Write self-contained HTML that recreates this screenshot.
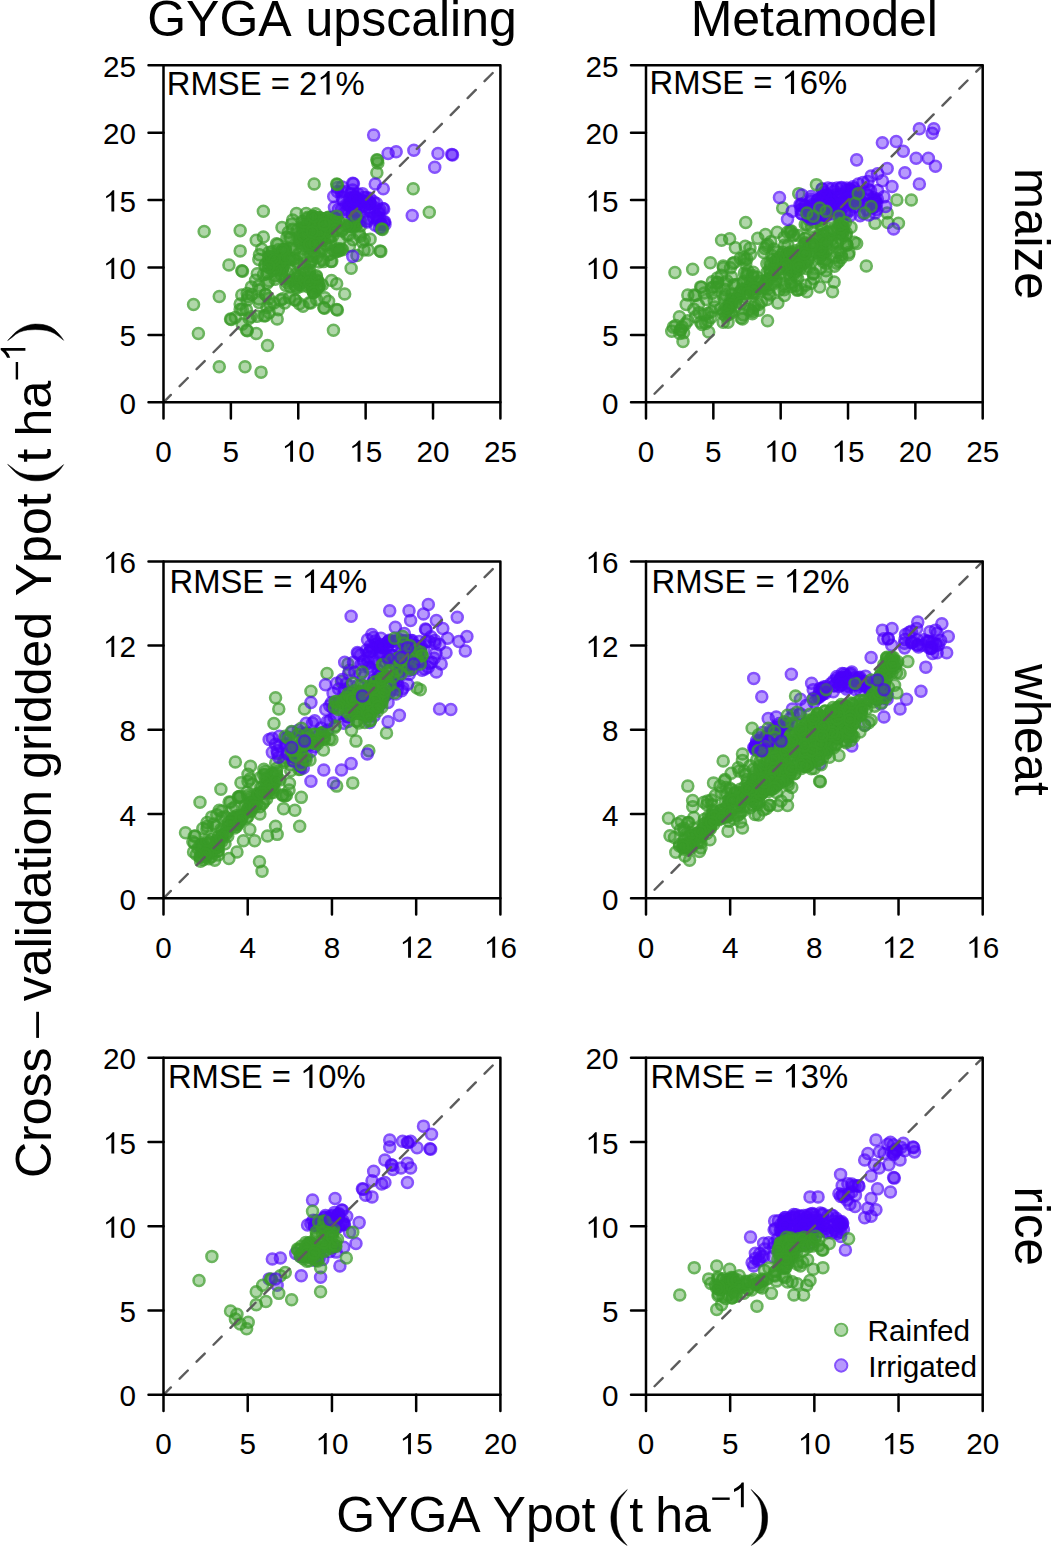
<!DOCTYPE html><html><head><meta charset="utf-8"><style>html,body{margin:0;padding:0;background:#fff;}svg{display:block;}text{font-family:"Liberation Sans", sans-serif;fill:#000;font-kerning:none;}</style></head><body>
<svg width="1051" height="1546" viewBox="0 0 1051 1546">
<rect width="1051" height="1546" fill="#fff"/>
<defs><g id="G"><circle r="4.0" fill="rgba(58,155,40,0.4)"/><circle r="5.38" fill="none" stroke="rgba(58,155,40,0.75)" stroke-width="2.75"/></g><g id="Q"><circle r="4.0" fill="rgba(75,0,250,0.4)"/><circle r="5.38" fill="none" stroke="rgba(75,0,250,0.68)" stroke-width="2.75"/></g><path id="one" d="M284 0L284 -556L118 -452Q104 -470 106 -520Q240 -590 328 -716L380 -716L380 0Z"/></defs>
<g><use href="#G" x="204.16" y="231.59"/><use href="#G" x="240.18" y="230.62"/><use href="#G" x="263.34" y="211.33"/><use href="#G" x="256.26" y="240.27"/><use href="#G" x="263.34" y="237.06"/><use href="#G" x="240.18" y="250.88"/><use href="#G" x="228.93" y="265.03"/><use href="#G" x="241.79" y="270.82"/><use href="#G" x="242.49" y="271.32"/><use href="#G" x="259.48" y="254.74"/><use href="#G" x="258.84" y="259.57"/><use href="#G" x="193.55" y="304.59"/><use href="#G" x="219.28" y="296.55"/><use href="#G" x="198.38" y="333.53"/><use href="#G" x="219.28" y="366.66"/><use href="#G" x="245.01" y="366.66"/><use href="#G" x="261.09" y="372.13"/><use href="#G" x="267.52" y="345.43"/><use href="#G" x="256.26" y="333.53"/><use href="#G" x="246.62" y="330.32"/><use href="#G" x="247.32" y="330.82"/><use href="#G" x="240.18" y="309.41"/><use href="#G" x="230.54" y="319.06"/><use href="#G" x="231.24" y="319.56"/><use href="#G" x="235.36" y="317.45"/><use href="#G" x="248.22" y="296.55"/><use href="#G" x="241.79" y="294.94"/><use href="#G" x="251.44" y="286.9"/><use href="#G" x="259.48" y="290.12"/><use href="#G" x="269.13" y="312.63"/><use href="#G" x="277.17" y="319.06"/><use href="#G" x="273.95" y="302.98"/><use href="#G" x="284.56" y="302.98"/><use href="#G" x="294.86" y="299.77"/><use href="#G" x="295.56" y="300.27"/><use href="#G" x="314.15" y="183.99"/><use href="#G" x="296.46" y="213.58"/><use href="#G" x="306.11" y="213.58"/><use href="#G" x="281.99" y="227.41"/><use href="#G" x="288.42" y="232.23"/><use href="#G" x="351.14" y="268.25"/><use href="#G" x="336.66" y="283.69"/><use href="#G" x="344.7" y="293.98"/><use href="#G" x="333.45" y="330.32"/><use href="#G" x="323.8" y="307.81"/><use href="#G" x="324.5" y="308.31"/><use href="#G" x="336.66" y="309.41"/><use href="#G" x="337.36" y="309.91"/><use href="#G" x="328.62" y="301.37"/><use href="#G" x="380.08" y="250.88"/><use href="#G" x="380.78" y="251.38"/><use href="#G" x="362.39" y="241.88"/><use href="#G" x="364" y="249.92"/><use href="#G" x="413.2" y="188.82"/><use href="#G" x="429.28" y="212.29"/><use href="#G" x="376.86" y="159.87"/><use href="#G" x="377.56" y="160.37"/><use href="#G" x="377.83" y="163.09"/><use href="#G" x="376.86" y="172.74"/><use href="#G" x="265.64" y="294.65"/><use href="#G" x="335.91" y="223.25"/><use href="#G" x="305.92" y="234.02"/><use href="#G" x="270.91" y="262.02"/><use href="#G" x="249.02" y="318.58"/><use href="#G" x="265.3" y="315.84"/><use href="#G" x="299.33" y="303.63"/><use href="#G" x="310.78" y="261.76"/><use href="#G" x="281.2" y="261.8"/><use href="#G" x="309.31" y="302.78"/><use href="#G" x="247.27" y="293.57"/><use href="#G" x="292.91" y="229.23"/><use href="#G" x="257.3" y="273.74"/><use href="#G" x="264.79" y="265.61"/><use href="#G" x="316.89" y="257.41"/><use href="#G" x="321.86" y="227.05"/><use href="#G" x="257.36" y="316.32"/><use href="#G" x="282.76" y="298.67"/><use href="#G" x="316.6" y="299.47"/><use href="#G" x="258.64" y="285.9"/><use href="#G" x="313.25" y="282.56"/><use href="#G" x="280.48" y="300.11"/><use href="#G" x="277.82" y="244.49"/><use href="#G" x="251.65" y="294.5"/><use href="#G" x="309.59" y="276.4"/><use href="#G" x="267.11" y="283.33"/><use href="#G" x="303.76" y="267.51"/><use href="#G" x="326.36" y="244.65"/><use href="#G" x="265.53" y="294.5"/><use href="#G" x="352.93" y="239.76"/><use href="#G" x="314.31" y="252.24"/><use href="#G" x="240.15" y="304.03"/><use href="#G" x="341.8" y="231"/><use href="#G" x="298.44" y="277.85"/><use href="#G" x="276.56" y="243.74"/><use href="#G" x="291.67" y="224.13"/><use href="#G" x="355.07" y="220.9"/><use href="#G" x="349.14" y="234.58"/><use href="#G" x="272.2" y="256.46"/><use href="#G" x="280.73" y="263.35"/><use href="#G" x="246.46" y="309.89"/><use href="#G" x="308" y="222.67"/><use href="#G" x="355.74" y="225.77"/><use href="#G" x="298.17" y="254.31"/><use href="#G" x="278.35" y="309.64"/><use href="#G" x="258.94" y="298.91"/><use href="#G" x="292.49" y="280.25"/><use href="#G" x="360.1" y="221.34"/><use href="#G" x="334.86" y="220.29"/><use href="#G" x="290.1" y="286.53"/><use href="#G" x="270.28" y="304.53"/><use href="#G" x="266.93" y="307.46"/><use href="#G" x="263.9" y="315.86"/><use href="#G" x="298.93" y="240.14"/><use href="#G" x="306.71" y="231.45"/><use href="#G" x="282.88" y="267.75"/><use href="#G" x="255.53" y="280.21"/><use href="#G" x="314.43" y="246.03"/><use href="#G" x="259.02" y="302.38"/><use href="#G" x="323.34" y="261.62"/><use href="#G" x="354.88" y="224.95"/><use href="#G" x="351.55" y="226.28"/><use href="#G" x="364.29" y="239.62"/><use href="#G" x="299.29" y="284.72"/><use href="#G" x="263.37" y="274.73"/><use href="#G" x="339.72" y="250.23"/><use href="#G" x="330.96" y="261.46"/><use href="#G" x="242.17" y="324.1"/><use href="#G" x="314.71" y="239.59"/><use href="#G" x="247.07" y="299.92"/><use href="#G" x="315.57" y="213.77"/><use href="#G" x="322.25" y="284.98"/><use href="#G" x="303" y="306.2"/><use href="#G" x="356.96" y="255.53"/><use href="#G" x="311.92" y="259.74"/><use href="#G" x="368.21" y="250.02"/><use href="#G" x="328.45" y="254.78"/><use href="#G" x="293.55" y="259.31"/><use href="#G" x="310.78" y="302.95"/><use href="#G" x="324.87" y="297.69"/><use href="#G" x="353.52" y="226.45"/><use href="#G" x="304.07" y="273.52"/><use href="#G" x="342.98" y="228.92"/><use href="#G" x="331.78" y="261.37"/><use href="#G" x="289.69" y="237.98"/><use href="#G" x="268.97" y="280.98"/><use href="#G" x="268.77" y="298.56"/><use href="#G" x="251.09" y="316.82"/><use href="#G" x="370.11" y="239.23"/><use href="#G" x="346.88" y="234.76"/><use href="#G" x="292.64" y="219.93"/><use href="#G" x="331.52" y="280.54"/><use href="#G" x="289.47" y="297.82"/><use href="#G" x="261.84" y="249.17"/><use href="#G" x="242.28" y="309.14"/><use href="#G" x="304.2" y="224.58"/><use href="#G" x="297.93" y="275.78"/><use href="#G" x="338.73" y="221.88"/><use href="#G" x="318.03" y="281.29"/><use href="#G" x="325.22" y="244.41"/><use href="#G" x="295.58" y="248.81"/><use href="#G" x="290" y="259.37"/><use href="#G" x="302.03" y="282.67"/><use href="#G" x="322.53" y="259.62"/><use href="#G" x="342.58" y="249.76"/><use href="#G" x="316.41" y="275.67"/><use href="#G" x="318.4" y="228.69"/><use href="#G" x="285.08" y="249.27"/><use href="#G" x="312.42" y="288.13"/><use href="#G" x="338.03" y="251.31"/><use href="#G" x="349.52" y="226.3"/><use href="#G" x="341.31" y="248.99"/><use href="#G" x="319.71" y="217.7"/><use href="#G" x="302.23" y="280.06"/><use href="#G" x="333.68" y="250.26"/><use href="#G" x="302.15" y="286.06"/><use href="#G" x="321.76" y="250.37"/><use href="#G" x="313.44" y="217.95"/><use href="#G" x="280.93" y="274.05"/><use href="#G" x="275.15" y="279.3"/><use href="#G" x="319.48" y="237.59"/><use href="#G" x="330.17" y="254.24"/><use href="#G" x="323.55" y="233.72"/><use href="#G" x="309.11" y="222.67"/><use href="#G" x="335.96" y="218.43"/><use href="#G" x="315.41" y="227.95"/><use href="#G" x="319.25" y="217.67"/><use href="#G" x="274.62" y="265.52"/><use href="#G" x="327.01" y="227.6"/><use href="#G" x="315.02" y="278.76"/><use href="#G" x="267.71" y="273.29"/><use href="#G" x="313.86" y="227.12"/><use href="#G" x="325.09" y="233.48"/><use href="#G" x="292.25" y="250.67"/><use href="#G" x="339.21" y="221.87"/><use href="#G" x="306.43" y="232.6"/><use href="#G" x="287.51" y="273.12"/><use href="#G" x="308.72" y="231.13"/><use href="#G" x="288.73" y="257.92"/><use href="#G" x="321.05" y="248.27"/><use href="#G" x="285.07" y="249.79"/><use href="#G" x="332.93" y="235.6"/><use href="#G" x="354.01" y="222.09"/><use href="#G" x="298.2" y="264.7"/><use href="#G" x="278.15" y="260.55"/><use href="#G" x="335.32" y="251.95"/><use href="#G" x="295.54" y="274.57"/><use href="#G" x="296.08" y="287.15"/><use href="#G" x="360.35" y="225.93"/><use href="#G" x="320.38" y="219.15"/><use href="#G" x="289.75" y="280.84"/><use href="#G" x="303.77" y="229.44"/><use href="#G" x="280" y="261.27"/><use href="#G" x="309.61" y="270.06"/><use href="#G" x="324.45" y="230.5"/><use href="#G" x="272.44" y="264.53"/><use href="#G" x="338.36" y="248.87"/><use href="#G" x="356.26" y="224.1"/><use href="#G" x="275.78" y="275.72"/><use href="#G" x="285.86" y="285.41"/><use href="#G" x="314.14" y="230.18"/><use href="#G" x="297.3" y="287.63"/><use href="#G" x="337.81" y="228.86"/><use href="#G" x="266.48" y="274.08"/><use href="#G" x="290.74" y="259.77"/><use href="#G" x="269.14" y="267.74"/><use href="#G" x="301.8" y="228.8"/><use href="#G" x="314.1" y="223.3"/><use href="#G" x="309.05" y="248.19"/><use href="#G" x="301.79" y="243.59"/><use href="#G" x="303.36" y="227.85"/><use href="#G" x="290.92" y="270.68"/><use href="#G" x="296.95" y="282.34"/><use href="#G" x="297.23" y="261.41"/><use href="#G" x="303.51" y="256.13"/><use href="#G" x="350.8" y="221.61"/><use href="#G" x="335.73" y="223.33"/><use href="#G" x="349.47" y="246.05"/><use href="#G" x="311.4" y="256.42"/><use href="#G" x="281.32" y="260.29"/><use href="#G" x="306.06" y="243.59"/><use href="#G" x="299.24" y="236.96"/><use href="#G" x="295.26" y="285.16"/><use href="#G" x="286.95" y="237.44"/><use href="#G" x="268.93" y="260.9"/><use href="#G" x="308.8" y="242.31"/><use href="#G" x="303.46" y="227.31"/><use href="#G" x="281.07" y="276.44"/><use href="#G" x="294.62" y="258.22"/><use href="#G" x="304.36" y="264.06"/><use href="#G" x="301.8" y="278.56"/><use href="#G" x="306.84" y="237.51"/><use href="#G" x="310.39" y="263.36"/><use href="#G" x="309.19" y="284.75"/><use href="#G" x="337.13" y="249.92"/><use href="#G" x="298.25" y="277.5"/><use href="#G" x="303.52" y="239.42"/><use href="#G" x="304.49" y="280.34"/><use href="#G" x="290.55" y="248.65"/><use href="#G" x="328.41" y="217.14"/><use href="#G" x="310.41" y="255.28"/><use href="#G" x="339.33" y="240.69"/><use href="#G" x="317.97" y="238.44"/><use href="#G" x="285.03" y="278.56"/><use href="#G" x="281.71" y="259.22"/><use href="#G" x="290.79" y="237.86"/><use href="#G" x="306.86" y="270.72"/><use href="#G" x="311.03" y="278.35"/><use href="#G" x="330.71" y="241.48"/><use href="#G" x="360.04" y="236.16"/><use href="#G" x="297.25" y="230.43"/><use href="#G" x="319.11" y="240.25"/><use href="#G" x="309.32" y="234.27"/><use href="#G" x="268.43" y="264.89"/><use href="#G" x="359.39" y="233.89"/><use href="#G" x="321.99" y="240.37"/><use href="#G" x="314.54" y="227.5"/><use href="#G" x="300.3" y="242.11"/><use href="#G" x="308.67" y="246.84"/><use href="#G" x="349.51" y="225.46"/><use href="#G" x="326.78" y="225.17"/><use href="#G" x="319.07" y="262.03"/><use href="#G" x="313.68" y="292.15"/><use href="#G" x="313.89" y="243.38"/><use href="#G" x="281.6" y="261.54"/><use href="#G" x="300.94" y="233.94"/><use href="#G" x="265.5" y="264.53"/><use href="#G" x="303.22" y="248.78"/><use href="#G" x="287.12" y="282.43"/><use href="#G" x="309.11" y="272.66"/><use href="#G" x="285.14" y="249.96"/><use href="#G" x="329.9" y="237.53"/><use href="#G" x="316.64" y="237"/><use href="#G" x="328.01" y="238.01"/><use href="#G" x="327.23" y="229.47"/><use href="#G" x="312.34" y="216.46"/><use href="#G" x="312.23" y="218.43"/><use href="#G" x="322.04" y="230.12"/><use href="#G" x="315.74" y="226.35"/><use href="#G" x="323.56" y="235.21"/><use href="#G" x="318.7" y="228.49"/><use href="#G" x="323.12" y="220.01"/><use href="#G" x="313.13" y="216.23"/><use href="#G" x="325.42" y="218.54"/><use href="#G" x="307.74" y="218.43"/><use href="#G" x="324.09" y="239.13"/><use href="#G" x="306.1" y="231.51"/><use href="#G" x="323.37" y="231.41"/><use href="#G" x="312.22" y="229.29"/><use href="#G" x="309.3" y="238.44"/><use href="#G" x="304.56" y="238.51"/><use href="#G" x="307.83" y="233.61"/><use href="#G" x="316.75" y="233.24"/><use href="#G" x="302.27" y="221.5"/><use href="#G" x="314.77" y="230.79"/><use href="#G" x="327.18" y="231.57"/><use href="#G" x="326.85" y="225.84"/><use href="#G" x="324.12" y="222.29"/><use href="#G" x="309.45" y="230.68"/><use href="#G" x="319.78" y="239.71"/><use href="#G" x="308.5" y="222.61"/><use href="#G" x="331.06" y="222.72"/><use href="#G" x="304.84" y="236.34"/><use href="#G" x="313.83" y="235.01"/><use href="#G" x="333.78" y="225.79"/><use href="#G" x="307.48" y="231.65"/><use href="#G" x="303.63" y="235.58"/><use href="#G" x="322.63" y="219.72"/><use href="#G" x="320.06" y="222.36"/><use href="#G" x="315.2" y="240"/><use href="#G" x="311.72" y="244.6"/><use href="#G" x="319.66" y="232.86"/><use href="#G" x="319.33" y="246.6"/><use href="#G" x="307.81" y="217.22"/><use href="#G" x="309.25" y="244.82"/><use href="#G" x="321" y="218.25"/><use href="#G" x="328.8" y="217.58"/><use href="#G" x="323.5" y="224.55"/><use href="#G" x="330.51" y="220.44"/><use href="#G" x="309.46" y="244.18"/><use href="#G" x="333.04" y="217.11"/><use href="#G" x="334.53" y="223.3"/><use href="#G" x="304.49" y="222.05"/><use href="#G" x="335.09" y="230.42"/><use href="#G" x="315" y="243.41"/><use href="#G" x="313.58" y="216.5"/><use href="#G" x="324.39" y="224.01"/><use href="#G" x="312.26" y="231.69"/><use href="#G" x="283.78" y="264.81"/><use href="#G" x="276.01" y="263.94"/><use href="#G" x="282.47" y="269.66"/><use href="#G" x="268.72" y="256.55"/><use href="#G" x="279.21" y="264.16"/><use href="#G" x="273.11" y="270.17"/><use href="#G" x="274.08" y="262.81"/><use href="#G" x="281.63" y="270.77"/><use href="#G" x="272.83" y="263.65"/><use href="#G" x="282.68" y="249.73"/><use href="#G" x="273.34" y="257.92"/><use href="#G" x="280.06" y="260.41"/><use href="#G" x="283.93" y="251.46"/><use href="#G" x="268.81" y="252.46"/><use href="#G" x="280" y="261.95"/><use href="#G" x="278.37" y="249.75"/><use href="#G" x="277.23" y="266.73"/><use href="#G" x="275.69" y="270.3"/><use href="#G" x="271.58" y="261.92"/><use href="#G" x="279.49" y="256.16"/><use href="#G" x="272.39" y="257.46"/><use href="#G" x="270.98" y="254.75"/><use href="#G" x="285.14" y="258.12"/><use href="#G" x="282.4" y="250.28"/><use href="#G" x="272.38" y="251.42"/><use href="#G" x="274.38" y="259.72"/><use href="#G" x="268.84" y="266.7"/><use href="#G" x="317.7" y="287.29"/><use href="#G" x="312.31" y="285.71"/><use href="#G" x="316.91" y="288.85"/><use href="#G" x="314.5" y="282.43"/><use href="#G" x="318.65" y="286.6"/><use href="#G" x="308.51" y="287.03"/><use href="#G" x="313.35" y="291.91"/><use href="#G" x="319.25" y="285.56"/><use href="#G" x="317.44" y="280.64"/><use href="#G" x="312.82" y="290.12"/><use href="#G" x="318.95" y="286.5"/><use href="#G" x="309.7" y="282.18"/><use href="#G" x="313.85" y="292.36"/><use href="#G" x="316.54" y="277.07"/><use href="#Q" x="373.65" y="135.11"/><use href="#Q" x="388.12" y="153.44"/><use href="#Q" x="396.16" y="151.83"/><use href="#Q" x="413.85" y="150.22"/><use href="#Q" x="437.97" y="153.44"/><use href="#Q" x="451.8" y="154.4"/><use href="#Q" x="452.5" y="154.9"/><use href="#Q" x="434.75" y="167.27"/><use href="#Q" x="352.74" y="183.35"/><use href="#Q" x="353.44" y="183.85"/><use href="#Q" x="375.25" y="183.99"/><use href="#Q" x="383.29" y="188.82"/><use href="#Q" x="412.24" y="215.51"/><use href="#Q" x="352.74" y="256.35"/><use href="#Q" x="362.39" y="193.64"/><use href="#Q" x="381.69" y="227.41"/><use href="#Q" x="342.09" y="197.3"/><use href="#Q" x="353.71" y="201.81"/><use href="#Q" x="357.81" y="193.88"/><use href="#Q" x="368.85" y="201.45"/><use href="#Q" x="342.97" y="199.88"/><use href="#Q" x="379.88" y="210.08"/><use href="#Q" x="383.71" y="209.09"/><use href="#Q" x="376.52" y="203.62"/><use href="#Q" x="357.62" y="202.25"/><use href="#Q" x="369.33" y="203.16"/><use href="#Q" x="384.97" y="224.38"/><use href="#Q" x="352.63" y="190.07"/><use href="#Q" x="352.35" y="215"/><use href="#Q" x="373.54" y="217.55"/><use href="#Q" x="356.99" y="205.54"/><use href="#Q" x="368.06" y="218.56"/><use href="#Q" x="352.29" y="204.1"/><use href="#Q" x="355.3" y="211.02"/><use href="#Q" x="367.19" y="221.87"/><use href="#Q" x="355.19" y="210.99"/><use href="#Q" x="338.51" y="209.26"/><use href="#Q" x="359.44" y="201.31"/><use href="#Q" x="352.08" y="212.91"/><use href="#Q" x="363.1" y="206.07"/><use href="#Q" x="360.6" y="204.03"/><use href="#Q" x="382.84" y="208.6"/><use href="#Q" x="381.56" y="224.61"/><use href="#Q" x="374.45" y="207.69"/><use href="#Q" x="375.4" y="225.2"/><use href="#Q" x="370.14" y="203.54"/><use href="#Q" x="369.87" y="198.34"/><use href="#Q" x="346.67" y="204.42"/><use href="#Q" x="349.23" y="205.72"/><use href="#Q" x="349.87" y="198.2"/><use href="#Q" x="379.67" y="227.64"/><use href="#Q" x="346.25" y="211.36"/><use href="#Q" x="376.93" y="216.6"/><use href="#Q" x="353.7" y="196.43"/><use href="#Q" x="334.44" y="207.33"/><use href="#Q" x="350.06" y="204.99"/><use href="#Q" x="365.13" y="201.66"/><use href="#Q" x="350.9" y="194.01"/><use href="#Q" x="349.56" y="204.28"/><use href="#Q" x="355.36" y="196.33"/><use href="#Q" x="344.14" y="191.48"/><use href="#Q" x="357.11" y="204.24"/><use href="#Q" x="341.39" y="191.88"/><use href="#Q" x="337.57" y="187.6"/><use href="#Q" x="361.33" y="200.1"/><use href="#Q" x="373.59" y="201.67"/><use href="#Q" x="381.13" y="224.13"/><use href="#Q" x="369.63" y="208.11"/><use href="#Q" x="348.63" y="204.17"/><use href="#Q" x="370.01" y="210.86"/><use href="#Q" x="378.55" y="221.03"/><use href="#Q" x="359.25" y="200.69"/><use href="#Q" x="355.08" y="197.71"/><use href="#Q" x="352.55" y="209.42"/><use href="#Q" x="337.38" y="191.43"/><use href="#Q" x="370.29" y="203.91"/><use href="#Q" x="333.72" y="196.44"/><use href="#Q" x="379.61" y="218.04"/><use href="#Q" x="347.42" y="209.8"/><use href="#Q" x="363.95" y="197.27"/><use href="#Q" x="357.32" y="211.52"/><use href="#Q" x="366.31" y="197.53"/><use href="#Q" x="383.88" y="222.08"/><use href="#Q" x="364.51" y="208.5"/><use href="#Q" x="367.08" y="220.73"/><use href="#Q" x="369.05" y="203.33"/><use href="#Q" x="355.15" y="198.55"/><use href="#Q" x="384.69" y="221.66"/><use href="#Q" x="362.64" y="206.6"/><use href="#Q" x="377.93" y="212.67"/><use href="#Q" x="378.81" y="211.93"/><use href="#Q" x="341.66" y="209.39"/><use href="#Q" x="342.07" y="186.88"/><use href="#G" x="336.66" y="183.99"/><use href="#G" x="337.36" y="184.49"/><use href="#G" x="381.69" y="229.02"/><use href="#G" x="382.39" y="229.52"/><use href="#G" x="336.66" y="216.15"/><use href="#G" x="355.96" y="216.15"/><use href="#G" x="346.31" y="225.8"/></g>
<line x1="163.5" y1="402.3" x2="500.4" y2="65.3" stroke="#5c5c5c" stroke-width="2.4" stroke-dasharray="11.5 12.46" stroke-dashoffset="1.12" stroke-linecap="round"/>
<rect x="163.5" y="65.3" width="336.9" height="337" fill="none" stroke="#000" stroke-width="2.5" stroke-linejoin="round"/>
<path d="M163.5 402.3H148.5M163.5 402.3V418.6M163.5 334.9H148.5M230.88 402.3V418.6M163.5 267.5H148.5M298.26 402.3V418.6M163.5 200.1H148.5M365.64 402.3V418.6M163.5 132.7H148.5M433.02 402.3V418.6M163.5 65.3H148.5M500.4 402.3V418.6" stroke="#000" stroke-width="2.5" stroke-linecap="round" fill="none"/>
<text x="119.48" y="413.8" font-size="29.7">0</text>
<text x="155.24" y="461.7" font-size="29.7">0</text>
<text x="119.48" y="346.4" font-size="29.7">5</text>
<text x="222.62" y="461.7" font-size="29.7">5</text>
<use href="#one" transform="translate(102.96 279) scale(0.0297)"/><text x="119.48" y="279" font-size="29.7">0</text>
<use href="#one" transform="translate(281.74 461.7) scale(0.0297)"/><text x="298.26" y="461.7" font-size="29.7">0</text>
<use href="#one" transform="translate(102.96 211.6) scale(0.0297)"/><text x="119.48" y="211.6" font-size="29.7">5</text>
<use href="#one" transform="translate(349.12 461.7) scale(0.0297)"/><text x="365.64" y="461.7" font-size="29.7">5</text>
<text x="102.96" y="144.2" font-size="29.7">20</text>
<text x="416.5" y="461.7" font-size="29.7">20</text>
<text x="102.96" y="76.8" font-size="29.7">25</text>
<text x="483.88" y="461.7" font-size="29.7">25</text>
<text x="166.78" y="94.5" font-size="32.8">RMSE = 2</text><use href="#one" transform="translate(317.16 94.5) scale(0.0328)"/><text x="335.4" y="94.5" font-size="32.8">%</text>
<g><use href="#G" x="745.7" y="222.58"/><use href="#G" x="674.94" y="272.43"/><use href="#G" x="692.63" y="269.22"/><use href="#G" x="710.32" y="262.78"/><use href="#G" x="723.18" y="266"/><use href="#G" x="721.58" y="240.27"/><use href="#G" x="729.62" y="238.66"/><use href="#G" x="735.4" y="247.67"/><use href="#G" x="798.76" y="193.64"/><use href="#G" x="782.68" y="208.11"/><use href="#G" x="777.21" y="232.23"/><use href="#G" x="787.5" y="232.23"/><use href="#G" x="896.85" y="200.07"/><use href="#G" x="911.32" y="200.07"/><use href="#G" x="887.2" y="212.94"/><use href="#G" x="898.45" y="223.23"/><use href="#G" x="874.98" y="223.23"/><use href="#G" x="887.84" y="222.58"/><use href="#G" x="856.65" y="243.49"/><use href="#G" x="866.29" y="266"/><use href="#G" x="848.61" y="254.74"/><use href="#G" x="838.96" y="261.18"/><use href="#G" x="832.53" y="291.73"/><use href="#G" x="834.14" y="282.08"/><use href="#G" x="819.66" y="286.9"/><use href="#G" x="806.8" y="291.73"/><use href="#G" x="797.15" y="290.12"/><use href="#G" x="777.86" y="302.98"/><use href="#G" x="767.56" y="320.67"/><use href="#G" x="758.56" y="304.59"/><use href="#G" x="687.81" y="320.67"/><use href="#G" x="682.98" y="341.57"/><use href="#G" x="673.34" y="327.1"/><use href="#G" x="671.73" y="331.28"/><use href="#G" x="679.77" y="333.53"/><use href="#G" x="687.81" y="294.94"/><use href="#G" x="700.67" y="286.9"/><use href="#G" x="713.54" y="286.9"/><use href="#G" x="686.2" y="304.59"/><use href="#G" x="708.71" y="331.93"/><use href="#G" x="700.67" y="322.28"/><use href="#G" x="699.06" y="312.63"/><use href="#G" x="723.18" y="322.28"/><use href="#G" x="728.01" y="322.28"/><use href="#G" x="742.48" y="319.06"/><use href="#G" x="748.91" y="309.41"/><use href="#G" x="784.29" y="283.69"/><use href="#G" x="793.94" y="274.04"/><use href="#G" x="813.23" y="274.04"/><use href="#G" x="826.1" y="270.82"/><use href="#G" x="753.76" y="307.57"/><use href="#G" x="745.39" y="293.58"/><use href="#G" x="832.47" y="231.18"/><use href="#G" x="825.49" y="259.26"/><use href="#G" x="769.46" y="278.11"/><use href="#G" x="764.92" y="248.35"/><use href="#G" x="836.15" y="252"/><use href="#G" x="765.47" y="234.56"/><use href="#G" x="822.16" y="254.04"/><use href="#G" x="784.83" y="287.08"/><use href="#G" x="763.22" y="286.39"/><use href="#G" x="711.35" y="311.73"/><use href="#G" x="801.08" y="289.17"/><use href="#G" x="793.72" y="234.54"/><use href="#G" x="790.6" y="232.45"/><use href="#G" x="695.48" y="295.48"/><use href="#G" x="819.05" y="219.26"/><use href="#G" x="788.66" y="253.3"/><use href="#G" x="805.46" y="285.2"/><use href="#G" x="826.34" y="263.5"/><use href="#G" x="761.42" y="302.03"/><use href="#G" x="844.74" y="212.72"/><use href="#G" x="790.38" y="279.03"/><use href="#G" x="787.83" y="259.62"/><use href="#G" x="829.97" y="217.94"/><use href="#G" x="743.38" y="281.77"/><use href="#G" x="820.32" y="268.33"/><use href="#G" x="694.11" y="295.12"/><use href="#G" x="777.76" y="252.02"/><use href="#G" x="762.67" y="288.9"/><use href="#G" x="714.17" y="300.16"/><use href="#G" x="679.43" y="316.83"/><use href="#G" x="846.05" y="243.56"/><use href="#G" x="758.68" y="310.25"/><use href="#G" x="787.91" y="245.58"/><use href="#G" x="822.78" y="213.25"/><use href="#G" x="834.48" y="266.15"/><use href="#G" x="851.01" y="227.21"/><use href="#G" x="768.32" y="293.56"/><use href="#G" x="805.63" y="253.93"/><use href="#G" x="740.36" y="258.42"/><use href="#G" x="723.74" y="297.72"/><use href="#G" x="783.05" y="252.47"/><use href="#G" x="828.13" y="238.43"/><use href="#G" x="701.53" y="287.29"/><use href="#G" x="706.41" y="299.55"/><use href="#G" x="731.97" y="293.9"/><use href="#G" x="793.14" y="235.74"/><use href="#G" x="747.08" y="276.06"/><use href="#G" x="767.08" y="299.47"/><use href="#G" x="733.85" y="284.66"/><use href="#G" x="745.95" y="297.41"/><use href="#G" x="736.99" y="284.61"/><use href="#G" x="680.77" y="329.73"/><use href="#G" x="745.22" y="246.33"/><use href="#G" x="819.21" y="258.58"/><use href="#G" x="752.48" y="311.76"/><use href="#G" x="712.4" y="281.63"/><use href="#G" x="813.49" y="273.22"/><use href="#G" x="798.39" y="235.45"/><use href="#G" x="801" y="251.32"/><use href="#G" x="815.24" y="222.26"/><use href="#G" x="770.07" y="295"/><use href="#G" x="823.5" y="252.78"/><use href="#G" x="763.68" y="252.5"/><use href="#G" x="819.96" y="220.61"/><use href="#G" x="809.24" y="267"/><use href="#G" x="746.74" y="258.96"/><use href="#G" x="711.1" y="317.4"/><use href="#G" x="836.84" y="263.27"/><use href="#G" x="731.47" y="312.76"/><use href="#G" x="741.06" y="318.05"/><use href="#G" x="707.98" y="313.33"/><use href="#G" x="728.48" y="309.05"/><use href="#G" x="766.7" y="246.13"/><use href="#G" x="773.88" y="249.06"/><use href="#G" x="784.15" y="237.36"/><use href="#G" x="714.8" y="307.07"/><use href="#G" x="750.43" y="254.35"/><use href="#G" x="820.42" y="252.55"/><use href="#G" x="779.04" y="290.27"/><use href="#G" x="784.71" y="244.94"/><use href="#G" x="843.29" y="232.36"/><use href="#G" x="750.96" y="310.28"/><use href="#G" x="822.86" y="258.48"/><use href="#G" x="735.78" y="301.35"/><use href="#G" x="823.19" y="254.6"/><use href="#G" x="711.44" y="287.94"/><use href="#G" x="811.22" y="283.15"/><use href="#G" x="835.34" y="257.22"/><use href="#G" x="712.12" y="293.31"/><use href="#G" x="725.27" y="296.11"/><use href="#G" x="754.8" y="305.27"/><use href="#G" x="730.32" y="311.45"/><use href="#G" x="743.81" y="257.41"/><use href="#G" x="704.73" y="314.97"/><use href="#G" x="789.93" y="230.91"/><use href="#G" x="716.68" y="287.27"/><use href="#G" x="721.53" y="275.26"/><use href="#G" x="823.64" y="262.01"/><use href="#G" x="813.8" y="278.79"/><use href="#G" x="732.68" y="263.43"/><use href="#G" x="701.98" y="324.4"/><use href="#G" x="846.99" y="245.22"/><use href="#G" x="693.89" y="309.32"/><use href="#G" x="811.64" y="226.68"/><use href="#G" x="682.23" y="326.91"/><use href="#G" x="795.99" y="276.43"/><use href="#G" x="695.48" y="316.66"/><use href="#G" x="846.67" y="244.64"/><use href="#G" x="723.44" y="267.83"/><use href="#G" x="705.69" y="323.56"/><use href="#G" x="749.37" y="287.32"/><use href="#G" x="753.21" y="272.21"/><use href="#G" x="807.2" y="225.12"/><use href="#G" x="771.94" y="255.44"/><use href="#G" x="791.31" y="230.99"/><use href="#G" x="704.17" y="293.06"/><use href="#G" x="804.88" y="242.81"/><use href="#G" x="817.15" y="252.84"/><use href="#G" x="731.6" y="276.99"/><use href="#G" x="841.1" y="221.13"/><use href="#G" x="717.71" y="282.64"/><use href="#G" x="683.6" y="332.69"/><use href="#G" x="720.62" y="308.9"/><use href="#G" x="785.6" y="275.27"/><use href="#G" x="795.84" y="285.71"/><use href="#G" x="749.93" y="248.26"/><use href="#G" x="745.76" y="263.93"/><use href="#G" x="743.2" y="314.86"/><use href="#G" x="685.41" y="323.86"/><use href="#G" x="848.95" y="252.59"/><use href="#G" x="744.53" y="259.87"/><use href="#G" x="805.25" y="224.57"/><use href="#G" x="747.94" y="271.22"/><use href="#G" x="698.46" y="304.69"/><use href="#G" x="743.08" y="283.12"/><use href="#G" x="820.75" y="224.86"/><use href="#G" x="757.77" y="238.35"/><use href="#G" x="717.34" y="277.96"/><use href="#G" x="785.58" y="256.88"/><use href="#G" x="725.08" y="289.43"/><use href="#G" x="759.43" y="288.35"/><use href="#G" x="790.95" y="283.25"/><use href="#G" x="819.5" y="256.86"/><use href="#G" x="783.18" y="257.05"/><use href="#G" x="746.72" y="274.32"/><use href="#G" x="758.29" y="283.26"/><use href="#G" x="791.69" y="286.57"/><use href="#G" x="680.1" y="329.96"/><use href="#G" x="790.62" y="253.2"/><use href="#G" x="725.02" y="283.02"/><use href="#G" x="841.3" y="254.71"/><use href="#G" x="806.19" y="268.55"/><use href="#G" x="826.32" y="276.7"/><use href="#G" x="725.87" y="294.63"/><use href="#G" x="744.39" y="273.14"/><use href="#G" x="784.15" y="289.64"/><use href="#G" x="717.31" y="282.2"/><use href="#G" x="797.62" y="278.42"/><use href="#G" x="798.14" y="290.05"/><use href="#G" x="752.34" y="313.74"/><use href="#G" x="841.81" y="257.64"/><use href="#G" x="854.24" y="242.21"/><use href="#G" x="770.72" y="241.68"/><use href="#G" x="734.39" y="262.4"/><use href="#G" x="675.78" y="325.61"/><use href="#G" x="809.09" y="219.76"/><use href="#G" x="838.33" y="212.93"/><use href="#G" x="839.58" y="251.49"/><use href="#G" x="708.03" y="320.88"/><use href="#G" x="804.84" y="238.44"/><use href="#G" x="786.37" y="266.4"/><use href="#G" x="812.51" y="243.87"/><use href="#G" x="726.84" y="280.75"/><use href="#G" x="806.02" y="237.91"/><use href="#G" x="730.45" y="267.85"/><use href="#G" x="767.77" y="288.77"/><use href="#G" x="789.34" y="268.81"/><use href="#G" x="821.36" y="224.68"/><use href="#G" x="725.73" y="316.04"/><use href="#G" x="784.4" y="295.58"/><use href="#G" x="767.82" y="244.45"/><use href="#G" x="823.02" y="243.58"/><use href="#G" x="764.62" y="283.37"/><use href="#G" x="767.1" y="279.89"/><use href="#G" x="723.58" y="310.77"/><use href="#G" x="776.4" y="262.54"/><use href="#G" x="791.04" y="270.9"/><use href="#G" x="807.74" y="259.67"/><use href="#G" x="741.74" y="289.08"/><use href="#G" x="826" y="244.52"/><use href="#G" x="837.37" y="243.96"/><use href="#G" x="766.85" y="263.66"/><use href="#G" x="842.9" y="230.44"/><use href="#G" x="751.14" y="286.45"/><use href="#G" x="795.58" y="250.66"/><use href="#G" x="794.72" y="256.71"/><use href="#G" x="779.91" y="272.98"/><use href="#G" x="846.42" y="233.05"/><use href="#G" x="791.23" y="269.82"/><use href="#G" x="840.74" y="233.45"/><use href="#G" x="808.9" y="243.37"/><use href="#G" x="775.08" y="261.62"/><use href="#G" x="762.64" y="281.21"/><use href="#G" x="767.52" y="280.32"/><use href="#G" x="757.18" y="277.22"/><use href="#G" x="819.12" y="236.11"/><use href="#G" x="795.34" y="271.38"/><use href="#G" x="815.6" y="237.91"/><use href="#G" x="781.62" y="255.47"/><use href="#G" x="731.02" y="304"/><use href="#G" x="800.13" y="260.02"/><use href="#G" x="752.67" y="287.25"/><use href="#G" x="805.17" y="244.47"/><use href="#G" x="795.57" y="265.15"/><use href="#G" x="823.04" y="235.81"/><use href="#G" x="787.18" y="254.34"/><use href="#G" x="823.21" y="251.76"/><use href="#G" x="805.28" y="250.32"/><use href="#G" x="843.81" y="227.96"/><use href="#G" x="752.83" y="292.74"/><use href="#G" x="782.76" y="266.65"/><use href="#G" x="752.14" y="276.63"/><use href="#G" x="831.64" y="239.57"/><use href="#G" x="773.25" y="275.09"/><use href="#G" x="769.83" y="263.18"/><use href="#G" x="821.27" y="248.36"/><use href="#G" x="801.97" y="259.67"/><use href="#G" x="739.91" y="293.45"/><use href="#G" x="726.68" y="310.49"/><use href="#G" x="749.5" y="286.97"/><use href="#G" x="837.78" y="228.3"/><use href="#G" x="790.68" y="266.55"/><use href="#G" x="819.33" y="239.24"/><use href="#G" x="801.01" y="265.39"/><use href="#G" x="759.08" y="281.05"/><use href="#G" x="819.99" y="253.85"/><use href="#G" x="765.41" y="287.42"/><use href="#G" x="846.04" y="235.84"/><use href="#G" x="781.04" y="268.55"/><use href="#G" x="770.29" y="273.67"/><use href="#G" x="789.63" y="255.28"/><use href="#G" x="811.65" y="254.46"/><use href="#G" x="840.6" y="239.07"/><use href="#G" x="787.27" y="254.33"/><use href="#G" x="772.94" y="278.79"/><use href="#G" x="832.59" y="244.84"/><use href="#G" x="791.15" y="261.11"/><use href="#G" x="794.86" y="253"/><use href="#G" x="789.58" y="274.27"/><use href="#G" x="826.87" y="232.35"/><use href="#G" x="822.45" y="234.17"/><use href="#G" x="729.43" y="303.8"/><use href="#G" x="738.31" y="292.91"/><use href="#G" x="736.2" y="306.23"/><use href="#G" x="819.38" y="249.28"/><use href="#G" x="736.82" y="298.52"/><use href="#G" x="789.55" y="263.5"/><use href="#G" x="772.46" y="276.84"/><use href="#G" x="774.74" y="266.61"/><use href="#G" x="787.87" y="260.31"/><use href="#G" x="794.93" y="258.42"/><use href="#G" x="826.63" y="250.53"/><use href="#G" x="799.83" y="259.49"/><use href="#G" x="754.1" y="292.19"/><use href="#G" x="750.43" y="282.28"/><use href="#G" x="754.87" y="287.93"/><use href="#G" x="764.66" y="286.39"/><use href="#G" x="750.69" y="290.14"/><use href="#G" x="841.75" y="227.13"/><use href="#G" x="842.81" y="223.52"/><use href="#G" x="808.1" y="251.79"/><use href="#G" x="842.08" y="235.01"/><use href="#G" x="746.91" y="288.27"/><use href="#G" x="730.93" y="299.6"/><use href="#G" x="776.05" y="279.89"/><use href="#G" x="748.14" y="292.7"/><use href="#G" x="794.3" y="260.01"/><use href="#G" x="801.73" y="247.48"/><use href="#G" x="731.66" y="302.11"/><use href="#G" x="820.52" y="248.84"/><use href="#G" x="799.58" y="263.86"/><use href="#G" x="778.5" y="257.74"/><use href="#G" x="778.95" y="263.5"/><use href="#G" x="815.77" y="244.97"/><use href="#G" x="807.74" y="261.87"/><use href="#G" x="796.16" y="266.39"/><use href="#G" x="733.53" y="299.45"/><use href="#G" x="770.85" y="264.96"/><use href="#G" x="804.37" y="262.74"/><use href="#G" x="796.22" y="270.76"/><use href="#G" x="731.1" y="305.22"/><use href="#G" x="805.9" y="263.28"/><use href="#G" x="840.18" y="225"/><use href="#G" x="812.25" y="247.28"/><use href="#G" x="769.31" y="269.78"/><use href="#G" x="776.1" y="260.67"/><use href="#G" x="824.22" y="233.64"/><use href="#G" x="806.95" y="246.59"/><use href="#G" x="752.75" y="275.45"/><use href="#G" x="742.03" y="290.15"/><use href="#G" x="838.92" y="224.85"/><use href="#G" x="826.07" y="243.32"/><use href="#G" x="754.99" y="293.27"/><use href="#G" x="766.96" y="272.51"/><use href="#G" x="799.85" y="268.89"/><use href="#G" x="770.67" y="271.63"/><use href="#G" x="775.36" y="281.95"/><use href="#G" x="790.64" y="252.1"/><use href="#G" x="820.82" y="238.5"/><use href="#G" x="804.92" y="253.38"/><use href="#G" x="723.32" y="313.74"/><use href="#G" x="828.08" y="232.07"/><use href="#G" x="831.68" y="230.17"/><use href="#G" x="752.56" y="291.9"/><use href="#G" x="832.5" y="232.66"/><use href="#G" x="738.6" y="295.9"/><use href="#G" x="840.66" y="227.86"/><use href="#G" x="785.73" y="264.5"/><use href="#G" x="740.77" y="303.31"/><use href="#G" x="753.91" y="288.27"/><use href="#G" x="836.84" y="241.85"/><use href="#G" x="728.44" y="314.74"/><use href="#G" x="772.63" y="284.35"/><use href="#G" x="747.97" y="293.39"/><use href="#G" x="812.19" y="244.68"/><use href="#G" x="798.49" y="265.32"/><use href="#G" x="804.32" y="253.81"/><use href="#G" x="727.04" y="307.54"/><use href="#G" x="772.8" y="259.83"/><use href="#G" x="781.32" y="268.87"/><use href="#Q" x="919.36" y="128.68"/><use href="#Q" x="933.83" y="128.68"/><use href="#Q" x="932.22" y="133.18"/><use href="#Q" x="882.37" y="142.83"/><use href="#Q" x="896.2" y="141.54"/><use href="#Q" x="903.28" y="151.19"/><use href="#Q" x="856.65" y="159.87"/><use href="#Q" x="916.14" y="158.26"/><use href="#Q" x="928.36" y="158.26"/><use href="#Q" x="935.44" y="166.3"/><use href="#Q" x="887.2" y="168.55"/><use href="#Q" x="904.89" y="172.74"/><use href="#Q" x="877.55" y="173.7"/><use href="#Q" x="871.12" y="175.95"/><use href="#Q" x="867.9" y="181.42"/><use href="#Q" x="882.37" y="180.78"/><use href="#Q" x="892.02" y="186.56"/><use href="#Q" x="919.36" y="183.99"/><use href="#Q" x="779.46" y="197.5"/><use href="#Q" x="792.33" y="211.33"/><use href="#Q" x="787.5" y="219.37"/><use href="#Q" x="885.59" y="206.5"/><use href="#Q" x="893.63" y="229.02"/><use href="#Q" x="863.08" y="182.38"/><use href="#Q" x="858.25" y="183.99"/><use href="#Q" x="877.55" y="190.42"/><use href="#Q" x="883.98" y="196.86"/><use href="#Q" x="871.12" y="203.29"/><use href="#Q" x="850.66" y="199.55"/><use href="#Q" x="851.22" y="189.76"/><use href="#Q" x="877.33" y="198.93"/><use href="#Q" x="831.27" y="206.35"/><use href="#Q" x="853.11" y="191.64"/><use href="#Q" x="817.72" y="199.65"/><use href="#Q" x="823.56" y="195.27"/><use href="#Q" x="840.98" y="188.35"/><use href="#Q" x="858.24" y="203.22"/><use href="#Q" x="864.19" y="203.92"/><use href="#Q" x="827.47" y="194.84"/><use href="#Q" x="850.15" y="190.31"/><use href="#Q" x="875.17" y="212.99"/><use href="#Q" x="841.49" y="187.38"/><use href="#Q" x="839.83" y="200.21"/><use href="#Q" x="848.47" y="200.36"/><use href="#Q" x="840.96" y="209.57"/><use href="#Q" x="868.45" y="189.31"/><use href="#Q" x="814.51" y="208.28"/><use href="#Q" x="829.36" y="195.93"/><use href="#Q" x="850.41" y="203.19"/><use href="#Q" x="849.98" y="199.02"/><use href="#Q" x="826.71" y="205.62"/><use href="#Q" x="853.21" y="201.63"/><use href="#Q" x="866.74" y="209.45"/><use href="#Q" x="860.1" y="215.8"/><use href="#Q" x="806.42" y="208.64"/><use href="#Q" x="827.97" y="187.95"/><use href="#Q" x="811.12" y="201.53"/><use href="#Q" x="801.92" y="204.1"/><use href="#Q" x="849.28" y="188.91"/><use href="#Q" x="863.11" y="213.53"/><use href="#Q" x="826.41" y="215.83"/><use href="#Q" x="820.32" y="204.35"/><use href="#Q" x="805.36" y="206.22"/><use href="#Q" x="867.38" y="195.27"/><use href="#Q" x="820.02" y="208.55"/><use href="#Q" x="825.78" y="211.34"/><use href="#Q" x="850.62" y="215.14"/><use href="#Q" x="875.13" y="200.95"/><use href="#Q" x="836.62" y="208.16"/><use href="#Q" x="828.59" y="202.68"/><use href="#Q" x="801.25" y="213.58"/><use href="#Q" x="866.14" y="193.49"/><use href="#Q" x="808.41" y="216.39"/><use href="#Q" x="829.08" y="198.32"/><use href="#Q" x="851.11" y="194.41"/><use href="#Q" x="876.7" y="203.1"/><use href="#Q" x="831.57" y="197.74"/><use href="#Q" x="875.64" y="200.05"/><use href="#Q" x="822.12" y="197.51"/><use href="#Q" x="835.58" y="210.05"/><use href="#Q" x="846.76" y="190.42"/><use href="#Q" x="830.99" y="203.12"/><use href="#Q" x="862.44" y="201.71"/><use href="#Q" x="837.03" y="197.42"/><use href="#Q" x="868.92" y="215.04"/><use href="#Q" x="856.09" y="192.26"/><use href="#Q" x="832.23" y="188.4"/><use href="#Q" x="844.58" y="200.71"/><use href="#Q" x="825.21" y="215.42"/><use href="#Q" x="812.99" y="204.41"/><use href="#Q" x="832.52" y="199.38"/><use href="#Q" x="817.6" y="199.98"/><use href="#Q" x="858.32" y="199.74"/><use href="#Q" x="842.02" y="202.36"/><use href="#Q" x="851.13" y="197.66"/><use href="#Q" x="799.9" y="204.76"/><use href="#Q" x="821.93" y="189.1"/><use href="#Q" x="822.58" y="196.18"/><use href="#Q" x="813.59" y="216.25"/><use href="#Q" x="801.93" y="213.86"/><use href="#Q" x="845.08" y="198.86"/><use href="#Q" x="807.76" y="216.11"/><use href="#Q" x="822.03" y="200.33"/><use href="#Q" x="801.95" y="194.97"/><use href="#Q" x="837.95" y="207.61"/><use href="#Q" x="815.13" y="218.22"/><use href="#Q" x="822.36" y="188.92"/><use href="#Q" x="834.46" y="191.09"/><use href="#Q" x="813.99" y="205.63"/><use href="#Q" x="874.52" y="202.64"/><use href="#Q" x="839.92" y="196.06"/><use href="#Q" x="818.03" y="203.16"/><use href="#Q" x="853.05" y="186.83"/><use href="#Q" x="873.46" y="197.74"/><use href="#Q" x="808.32" y="209.96"/><use href="#Q" x="872.3" y="207.99"/><use href="#Q" x="853.55" y="188.61"/><use href="#Q" x="800.98" y="209.73"/><use href="#Q" x="873.93" y="201.14"/><use href="#Q" x="839.09" y="210.83"/><use href="#Q" x="832.81" y="213.67"/><use href="#Q" x="839.3" y="207.48"/><use href="#Q" x="870.52" y="190.82"/><use href="#Q" x="804.38" y="205.57"/><use href="#Q" x="853.46" y="203.91"/><use href="#Q" x="849.43" y="210.38"/><use href="#Q" x="846.45" y="213.78"/><use href="#Q" x="858.32" y="193.77"/><use href="#Q" x="876.68" y="209.46"/><use href="#Q" x="853.15" y="194.51"/><use href="#Q" x="874.97" y="206.72"/><use href="#Q" x="823.18" y="215.08"/><use href="#Q" x="835.85" y="194.96"/><use href="#Q" x="854.49" y="206.73"/><use href="#Q" x="811.02" y="199.35"/><use href="#Q" x="829.37" y="204.07"/><use href="#Q" x="811.07" y="196.58"/><use href="#Q" x="846.67" y="188.05"/><use href="#Q" x="839.53" y="194.43"/><use href="#Q" x="847.69" y="198.84"/><use href="#Q" x="860.07" y="197.92"/><use href="#Q" x="836.99" y="188.09"/><use href="#Q" x="810.94" y="218.91"/><use href="#Q" x="824.43" y="192.38"/><use href="#Q" x="800.89" y="205.39"/><use href="#G" x="816.45" y="184.63"/><use href="#G" x="819.66" y="208.11"/><use href="#G" x="855.04" y="203.29"/><use href="#G" x="858.25" y="193.64"/><use href="#G" x="838.96" y="216.15"/><use href="#G" x="845.39" y="222.58"/><use href="#G" x="806.8" y="212.94"/><use href="#G" x="826.1" y="211.33"/><use href="#G" x="871.12" y="206.5"/><use href="#G" x="864.69" y="212.94"/><use href="#G" x="813.23" y="216.15"/></g>
<line x1="646" y1="402.3" x2="982.7" y2="65.3" stroke="#5c5c5c" stroke-width="2.4" stroke-dasharray="11.5 12.46" stroke-dashoffset="11.87" stroke-linecap="round"/>
<rect x="646" y="65.3" width="336.7" height="337" fill="none" stroke="#000" stroke-width="2.5" stroke-linejoin="round"/>
<path d="M646 402.3H631M646 402.3V418.6M646 334.9H631M713.34 402.3V418.6M646 267.5H631M780.68 402.3V418.6M646 200.1H631M848.02 402.3V418.6M646 132.7H631M915.36 402.3V418.6M646 65.3H631M982.7 402.3V418.6" stroke="#000" stroke-width="2.5" stroke-linecap="round" fill="none"/>
<text x="601.98" y="413.8" font-size="29.7">0</text>
<text x="637.74" y="461.7" font-size="29.7">0</text>
<text x="601.98" y="346.4" font-size="29.7">5</text>
<text x="705.08" y="461.7" font-size="29.7">5</text>
<use href="#one" transform="translate(585.46 279) scale(0.0297)"/><text x="601.98" y="279" font-size="29.7">0</text>
<use href="#one" transform="translate(764.16 461.7) scale(0.0297)"/><text x="780.68" y="461.7" font-size="29.7">0</text>
<use href="#one" transform="translate(585.46 211.6) scale(0.0297)"/><text x="601.98" y="211.6" font-size="29.7">5</text>
<use href="#one" transform="translate(831.5 461.7) scale(0.0297)"/><text x="848.02" y="461.7" font-size="29.7">5</text>
<text x="585.46" y="144.2" font-size="29.7">20</text>
<text x="898.84" y="461.7" font-size="29.7">20</text>
<text x="585.46" y="76.8" font-size="29.7">25</text>
<text x="966.18" y="461.7" font-size="29.7">25</text>
<text x="649.48" y="94.1" font-size="32.8">RMSE = </text><use href="#one" transform="translate(781.62 94.1) scale(0.0328)"/><text x="799.86" y="94.1" font-size="32.8">6%</text>
<g><use href="#G" x="185.51" y="832.75"/><use href="#G" x="199.98" y="802.2"/><use href="#G" x="220.89" y="789.33"/><use href="#G" x="235.36" y="762"/><use href="#G" x="250.47" y="766.18"/><use href="#G" x="259.48" y="861.69"/><use href="#G" x="262.05" y="871.34"/><use href="#G" x="267.52" y="835.97"/><use href="#G" x="277.17" y="834.36"/><use href="#G" x="275.56" y="826.32"/><use href="#G" x="299.68" y="826.32"/><use href="#G" x="294.86" y="810.24"/><use href="#G" x="283.6" y="808.63"/><use href="#G" x="301.29" y="797.37"/><use href="#G" x="195.16" y="835.97"/><use href="#G" x="193.55" y="852.05"/><use href="#G" x="230.54" y="802.2"/><use href="#G" x="232.14" y="808.63"/><use href="#G" x="236.97" y="818.28"/><use href="#G" x="249.83" y="829.53"/><use href="#G" x="254.66" y="840.79"/><use href="#G" x="243.4" y="840.79"/><use href="#G" x="228.93" y="858.48"/><use href="#G" x="236.97" y="852.05"/><use href="#G" x="217.67" y="847.22"/><use href="#G" x="219.28" y="810.24"/><use href="#G" x="275.56" y="697.68"/><use href="#G" x="278.78" y="708.94"/><use href="#G" x="273.95" y="723.41"/><use href="#G" x="304.5" y="708.94"/><use href="#G" x="310.94" y="691.25"/><use href="#G" x="327.02" y="673.56"/><use href="#G" x="341.49" y="681.6"/><use href="#G" x="352.74" y="782.9"/><use href="#G" x="336.66" y="786.12"/><use href="#G" x="386.51" y="733.06"/><use href="#G" x="368.82" y="750.74"/><use href="#G" x="355.96" y="741.1"/><use href="#G" x="347.92" y="663.91"/><use href="#G" x="349.53" y="670.34"/><use href="#G" x="417.06" y="688.03"/><use href="#G" x="420.28" y="689.64"/><use href="#G" x="267.22" y="777.32"/><use href="#G" x="284.09" y="760.43"/><use href="#G" x="239.13" y="797.62"/><use href="#G" x="211.61" y="851.39"/><use href="#G" x="266.41" y="791.68"/><use href="#G" x="263.7" y="774.84"/><use href="#G" x="262.71" y="803.64"/><use href="#G" x="192.88" y="841.82"/><use href="#G" x="216.81" y="814.76"/><use href="#G" x="235.25" y="806.57"/><use href="#G" x="279.95" y="780.08"/><use href="#G" x="236.65" y="826.57"/><use href="#G" x="200.6" y="861.23"/><use href="#G" x="263.9" y="769.16"/><use href="#G" x="194.56" y="843.22"/><use href="#G" x="218.44" y="850.75"/><use href="#G" x="256.8" y="803.83"/><use href="#G" x="285.61" y="757.68"/><use href="#G" x="265.46" y="771.38"/><use href="#G" x="271.03" y="783.83"/><use href="#G" x="238.95" y="796.75"/><use href="#G" x="213.77" y="823.88"/><use href="#G" x="271.57" y="781.2"/><use href="#G" x="290.78" y="770.66"/><use href="#G" x="265.46" y="774.61"/><use href="#G" x="209.71" y="842.03"/><use href="#G" x="250.05" y="810.78"/><use href="#G" x="248.03" y="781.44"/><use href="#G" x="240.41" y="796.14"/><use href="#G" x="233.91" y="823.1"/><use href="#G" x="248.02" y="774.32"/><use href="#G" x="215.75" y="826.62"/><use href="#G" x="259.89" y="813.98"/><use href="#G" x="275.71" y="762.95"/><use href="#G" x="273.04" y="792.43"/><use href="#G" x="211.72" y="816.89"/><use href="#G" x="296.4" y="759.28"/><use href="#G" x="211.73" y="839.57"/><use href="#G" x="208.03" y="843.71"/><use href="#G" x="207.08" y="822.48"/><use href="#G" x="222.07" y="817.6"/><use href="#G" x="224.99" y="843.77"/><use href="#G" x="201.5" y="844.42"/><use href="#G" x="220.88" y="829.6"/><use href="#G" x="249.97" y="779.11"/><use href="#G" x="237.57" y="815.4"/><use href="#G" x="267.73" y="787.75"/><use href="#G" x="238.23" y="797.04"/><use href="#G" x="260.53" y="777.38"/><use href="#G" x="252.44" y="784.16"/><use href="#G" x="207.4" y="826.19"/><use href="#G" x="300.48" y="769.26"/><use href="#G" x="203.18" y="844.14"/><use href="#G" x="299.02" y="769.54"/><use href="#G" x="203.33" y="859.77"/><use href="#G" x="290.52" y="764.76"/><use href="#G" x="218.17" y="854.91"/><use href="#G" x="282.83" y="794.97"/><use href="#G" x="221.66" y="811.22"/><use href="#G" x="202.81" y="828.49"/><use href="#G" x="214.73" y="860.32"/><use href="#G" x="286.42" y="795.33"/><use href="#G" x="282.5" y="795.31"/><use href="#G" x="208.92" y="858.84"/><use href="#G" x="208.33" y="848.34"/><use href="#G" x="289.44" y="783.16"/><use href="#G" x="250.5" y="797.08"/><use href="#G" x="216.9" y="843.58"/><use href="#G" x="240.95" y="782.83"/><use href="#G" x="247.32" y="792.25"/><use href="#G" x="247.54" y="795.83"/><use href="#G" x="260.9" y="787.45"/><use href="#G" x="284.96" y="796.05"/><use href="#G" x="224.99" y="816.82"/><use href="#G" x="292.17" y="759.81"/><use href="#G" x="289.06" y="789.93"/><use href="#G" x="217.45" y="851.28"/><use href="#G" x="283.87" y="762.13"/><use href="#G" x="276.92" y="768.33"/><use href="#G" x="229.1" y="802.06"/><use href="#G" x="206.97" y="828.91"/><use href="#G" x="194.32" y="836.22"/><use href="#G" x="222.55" y="834.93"/><use href="#G" x="269.94" y="784.56"/><use href="#G" x="227.73" y="836.13"/><use href="#G" x="199.92" y="857.01"/><use href="#G" x="268.53" y="785.87"/><use href="#G" x="217.25" y="847.33"/><use href="#G" x="218.47" y="845.87"/><use href="#G" x="252.13" y="805.48"/><use href="#G" x="211.45" y="856.69"/><use href="#G" x="217.3" y="841"/><use href="#G" x="212.25" y="850.86"/><use href="#G" x="259.03" y="794.62"/><use href="#G" x="241.54" y="819.38"/><use href="#G" x="266.58" y="799.04"/><use href="#G" x="235.91" y="824.35"/><use href="#G" x="240.04" y="820.79"/><use href="#G" x="259.87" y="806.63"/><use href="#G" x="218.86" y="842.54"/><use href="#G" x="272.94" y="787.62"/><use href="#G" x="261.1" y="792.86"/><use href="#G" x="251.46" y="798.71"/><use href="#G" x="252.16" y="806.56"/><use href="#G" x="201.64" y="847.55"/><use href="#G" x="250.37" y="802.76"/><use href="#G" x="248.04" y="808.05"/><use href="#G" x="197.99" y="848.19"/><use href="#G" x="213.38" y="853.12"/><use href="#G" x="264.99" y="784.65"/><use href="#G" x="270.21" y="789.45"/><use href="#G" x="263.9" y="801.8"/><use href="#G" x="201.04" y="852.99"/><use href="#G" x="272.62" y="785.37"/><use href="#G" x="248.75" y="804.66"/><use href="#G" x="276.77" y="776.1"/><use href="#G" x="228.49" y="822.18"/><use href="#G" x="218.29" y="836.69"/><use href="#G" x="233.49" y="817.59"/><use href="#G" x="269.73" y="788.43"/><use href="#G" x="255.67" y="800.08"/><use href="#G" x="231.82" y="819.74"/><use href="#G" x="267.82" y="782.83"/><use href="#G" x="272.81" y="773.53"/><use href="#G" x="270.43" y="793.07"/><use href="#G" x="253.89" y="800.06"/><use href="#G" x="234.74" y="827.89"/><use href="#G" x="235.07" y="818.31"/><use href="#G" x="200.34" y="846.23"/><use href="#G" x="232.64" y="819.04"/><use href="#G" x="252" y="807.66"/><use href="#G" x="276.48" y="771.73"/><use href="#G" x="240.43" y="816.79"/><use href="#G" x="236.44" y="823.01"/><use href="#G" x="273.12" y="783.09"/><use href="#G" x="250.67" y="811.63"/><use href="#G" x="258.52" y="794.56"/><use href="#G" x="247.88" y="816.48"/><use href="#G" x="222.08" y="840.87"/><use href="#G" x="276.34" y="774.27"/><use href="#G" x="206.32" y="856.97"/><use href="#G" x="216.92" y="839.85"/><use href="#G" x="207.82" y="854.56"/><use href="#G" x="228.3" y="826.97"/><use href="#G" x="265.28" y="791.67"/><use href="#G" x="264.63" y="789.28"/><use href="#G" x="268.35" y="788.81"/><use href="#G" x="237.43" y="824.42"/><use href="#G" x="271.67" y="774.65"/><use href="#G" x="274.88" y="781.82"/><use href="#G" x="222.93" y="830.74"/><use href="#G" x="217.08" y="846.92"/><use href="#G" x="246.82" y="811.28"/><use href="#G" x="231.56" y="826.99"/><use href="#G" x="243.74" y="814.67"/><use href="#G" x="205.66" y="854.39"/><use href="#G" x="262.41" y="792.62"/><use href="#G" x="270.09" y="787.45"/><use href="#G" x="206.11" y="842.99"/><use href="#G" x="206.53" y="840.63"/><use href="#G" x="251.39" y="803.18"/><use href="#G" x="269.9" y="786.82"/><use href="#G" x="226.61" y="833.08"/><use href="#G" x="226.37" y="830.9"/><use href="#G" x="218.49" y="841.83"/><use href="#G" x="221.19" y="838.72"/><use href="#G" x="225.71" y="834.13"/><use href="#G" x="232.07" y="823.21"/><use href="#G" x="265.03" y="789.06"/><use href="#G" x="229.19" y="822.88"/><use href="#G" x="265.46" y="780.48"/><use href="#G" x="258.09" y="793.62"/><use href="#G" x="276.78" y="779.99"/><use href="#G" x="200.47" y="857.57"/><use href="#G" x="246.54" y="817.9"/><use href="#G" x="274.26" y="789.49"/><use href="#G" x="247.86" y="809.48"/><use href="#G" x="204.29" y="853.19"/><use href="#G" x="205.2" y="854.31"/><use href="#G" x="239.21" y="822.74"/><use href="#G" x="244.63" y="807.1"/><use href="#G" x="240.97" y="818.23"/><use href="#G" x="196.42" y="854.5"/><use href="#G" x="267.54" y="793.05"/><use href="#G" x="254.68" y="807.34"/><use href="#G" x="262.35" y="793.2"/><use href="#Q" x="351.14" y="616.31"/><use href="#Q" x="389.73" y="610.85"/><use href="#Q" x="409.02" y="610.85"/><use href="#Q" x="428.32" y="604.42"/><use href="#Q" x="423.49" y="614.06"/><use href="#Q" x="410.63" y="620.5"/><use href="#Q" x="457.26" y="617.28"/><use href="#Q" x="466.91" y="636.58"/><use href="#Q" x="465.3" y="651.05"/><use href="#Q" x="458.87" y="641.4"/><use href="#Q" x="447.61" y="638.18"/><use href="#Q" x="436.36" y="620.5"/><use href="#Q" x="442.79" y="628.54"/><use href="#Q" x="439.57" y="644.62"/><use href="#Q" x="446.01" y="652.66"/><use href="#Q" x="441.18" y="663.91"/><use href="#Q" x="436.36" y="671.95"/><use href="#Q" x="439.57" y="708.94"/><use href="#Q" x="450.83" y="709.58"/><use href="#Q" x="399.37" y="715.37"/><use href="#Q" x="388.12" y="721.8"/><use href="#Q" x="310.94" y="702.5"/><use href="#Q" x="325.41" y="684.82"/><use href="#Q" x="336.66" y="683.21"/><use href="#Q" x="344.7" y="662.3"/><use href="#Q" x="269.13" y="739.49"/><use href="#Q" x="272.34" y="752.35"/><use href="#Q" x="278.78" y="757.18"/><use href="#Q" x="341.49" y="770.04"/><use href="#Q" x="351.14" y="763.61"/><use href="#Q" x="367.22" y="753.96"/><use href="#Q" x="333.45" y="782.9"/><use href="#Q" x="310.94" y="781.29"/><use href="#Q" x="323.8" y="770.04"/><use href="#Q" x="304.42" y="745.75"/><use href="#Q" x="421.26" y="646.28"/><use href="#Q" x="429.3" y="663.26"/><use href="#Q" x="375.28" y="640.91"/><use href="#Q" x="317.29" y="736.94"/><use href="#Q" x="388.52" y="641.58"/><use href="#Q" x="360.55" y="692.64"/><use href="#Q" x="366.25" y="716.17"/><use href="#Q" x="430.96" y="636.83"/><use href="#Q" x="403.48" y="640.58"/><use href="#Q" x="378.21" y="676.66"/><use href="#Q" x="410.43" y="642.16"/><use href="#Q" x="412.92" y="669.25"/><use href="#Q" x="397.42" y="677.29"/><use href="#Q" x="342.35" y="679.5"/><use href="#Q" x="368.63" y="687.66"/><use href="#Q" x="302.08" y="760.36"/><use href="#Q" x="369.18" y="657.25"/><use href="#Q" x="376.2" y="691.49"/><use href="#Q" x="373.77" y="680.47"/><use href="#Q" x="333.08" y="693.36"/><use href="#Q" x="401.63" y="651.95"/><use href="#Q" x="348.72" y="673.37"/><use href="#Q" x="410.79" y="640.45"/><use href="#Q" x="327.8" y="730.05"/><use href="#Q" x="398.8" y="639.23"/><use href="#Q" x="405.62" y="665.48"/><use href="#Q" x="366.62" y="663.93"/><use href="#Q" x="403.05" y="688.14"/><use href="#Q" x="334.17" y="717.24"/><use href="#Q" x="383" y="647.48"/><use href="#Q" x="347.56" y="716.36"/><use href="#Q" x="303.85" y="746.14"/><use href="#Q" x="296.8" y="753.68"/><use href="#Q" x="343.63" y="723.21"/><use href="#Q" x="385.53" y="662.16"/><use href="#Q" x="405.7" y="652.11"/><use href="#Q" x="286.75" y="743.49"/><use href="#Q" x="420.23" y="649.62"/><use href="#Q" x="344.56" y="703.61"/><use href="#Q" x="393.12" y="680.58"/><use href="#Q" x="373.42" y="689.24"/><use href="#Q" x="302.53" y="762.47"/><use href="#Q" x="305.85" y="732.95"/><use href="#Q" x="396.07" y="693.93"/><use href="#Q" x="435.01" y="643.52"/><use href="#Q" x="431.55" y="662.18"/><use href="#Q" x="373.33" y="637.51"/><use href="#Q" x="345.32" y="703.24"/><use href="#Q" x="363.51" y="661.31"/><use href="#Q" x="361.29" y="664.25"/><use href="#Q" x="350.61" y="685.97"/><use href="#Q" x="369.14" y="666.88"/><use href="#Q" x="356.17" y="706.29"/><use href="#Q" x="414.17" y="660.39"/><use href="#Q" x="363.52" y="676.93"/><use href="#Q" x="353.56" y="662.13"/><use href="#Q" x="361.97" y="707.74"/><use href="#Q" x="411.88" y="648.82"/><use href="#Q" x="285.89" y="738.01"/><use href="#Q" x="371.88" y="634.45"/><use href="#Q" x="354.8" y="671.94"/><use href="#Q" x="306.52" y="742.94"/><use href="#Q" x="357.38" y="652.58"/><use href="#Q" x="312.46" y="722.98"/><use href="#Q" x="407.01" y="647.02"/><use href="#Q" x="379.6" y="665.29"/><use href="#Q" x="306.29" y="756.28"/><use href="#Q" x="332.81" y="707.92"/><use href="#Q" x="287.45" y="753.89"/><use href="#Q" x="380.51" y="652.47"/><use href="#Q" x="400.08" y="662.2"/><use href="#Q" x="377.56" y="646.42"/><use href="#Q" x="295.27" y="757.35"/><use href="#Q" x="390.39" y="667.01"/><use href="#Q" x="436.05" y="653.07"/><use href="#Q" x="293.32" y="760.92"/><use href="#Q" x="381.73" y="646.24"/><use href="#Q" x="406.41" y="655.61"/><use href="#Q" x="415.02" y="645.51"/><use href="#Q" x="384.12" y="696.07"/><use href="#Q" x="378.07" y="670.26"/><use href="#Q" x="434.16" y="658.22"/><use href="#Q" x="356.22" y="693.52"/><use href="#Q" x="309.97" y="744.66"/><use href="#Q" x="279.81" y="745.8"/><use href="#Q" x="387.17" y="643"/><use href="#Q" x="358.1" y="653.64"/><use href="#Q" x="386.03" y="695.23"/><use href="#Q" x="417.7" y="651.95"/><use href="#Q" x="304.1" y="733.96"/><use href="#Q" x="354.3" y="708.92"/><use href="#Q" x="338.66" y="689.04"/><use href="#Q" x="347.32" y="716.79"/><use href="#Q" x="413.14" y="649.29"/><use href="#Q" x="329.87" y="720.81"/><use href="#Q" x="419.29" y="641.42"/><use href="#Q" x="407.64" y="684.18"/><use href="#Q" x="398.14" y="647.26"/><use href="#Q" x="401.71" y="690.7"/><use href="#Q" x="426.11" y="629.75"/><use href="#Q" x="425.45" y="628.95"/><use href="#Q" x="272.33" y="738.16"/><use href="#Q" x="311.08" y="751.15"/><use href="#Q" x="303.26" y="768"/><use href="#Q" x="381.64" y="654.65"/><use href="#Q" x="395.33" y="627.28"/><use href="#Q" x="339.66" y="702.26"/><use href="#Q" x="336.26" y="715.82"/><use href="#Q" x="389.75" y="692.59"/><use href="#Q" x="292.08" y="732.03"/><use href="#Q" x="318.98" y="733.39"/><use href="#Q" x="346.33" y="683.84"/><use href="#Q" x="286.47" y="745.21"/><use href="#Q" x="405.47" y="647.54"/><use href="#Q" x="277.19" y="750.71"/><use href="#Q" x="369.47" y="652"/><use href="#Q" x="331.59" y="702.56"/><use href="#Q" x="325.75" y="709.59"/><use href="#Q" x="298.37" y="730.21"/><use href="#Q" x="424.89" y="668.89"/><use href="#Q" x="404.3" y="633.62"/><use href="#Q" x="380.83" y="682.04"/><use href="#Q" x="307.69" y="735.48"/><use href="#Q" x="404.74" y="666.22"/><use href="#Q" x="422.13" y="670.24"/><use href="#Q" x="397.33" y="689.67"/><use href="#Q" x="284.97" y="744.92"/><use href="#Q" x="376.2" y="698.95"/><use href="#Q" x="389.65" y="691.12"/><use href="#Q" x="378.77" y="679.26"/><use href="#Q" x="367.55" y="639.74"/><use href="#Q" x="388.08" y="702.53"/><use href="#Q" x="345.1" y="692.24"/><use href="#Q" x="353.63" y="696.95"/><use href="#Q" x="355.95" y="707.26"/><use href="#Q" x="434.83" y="640.47"/><use href="#Q" x="279.32" y="736.21"/><use href="#Q" x="397.95" y="685.03"/><use href="#Q" x="291.34" y="755.75"/><use href="#Q" x="311.05" y="740.81"/><use href="#Q" x="369.06" y="702.7"/><use href="#Q" x="358.11" y="685.36"/><use href="#Q" x="406.11" y="651.49"/><use href="#Q" x="426.2" y="641.42"/><use href="#Q" x="365.41" y="691.83"/><use href="#Q" x="350.12" y="693.56"/><use href="#Q" x="299.85" y="732.76"/><use href="#Q" x="370.26" y="646.02"/><use href="#Q" x="376.08" y="692.15"/><use href="#Q" x="412.12" y="640.52"/><use href="#Q" x="405.32" y="642.23"/><use href="#Q" x="360.45" y="674.78"/><use href="#Q" x="277.64" y="753.64"/><use href="#Q" x="300.63" y="766.32"/><use href="#Q" x="374.05" y="715.91"/><use href="#Q" x="398.89" y="662.55"/><use href="#Q" x="378.51" y="707.05"/><use href="#Q" x="321.04" y="727.99"/><use href="#Q" x="400.32" y="666.74"/><use href="#Q" x="406.87" y="667.67"/><use href="#Q" x="314.7" y="746.76"/><use href="#Q" x="409.39" y="651.55"/><use href="#Q" x="381.34" y="700.98"/><use href="#Q" x="347.96" y="721.49"/><use href="#Q" x="303.24" y="743.18"/><use href="#Q" x="388" y="641.68"/><use href="#Q" x="314.68" y="720.67"/><use href="#Q" x="297.1" y="751.91"/><use href="#Q" x="366.4" y="650.2"/><use href="#Q" x="344.49" y="689.19"/><use href="#Q" x="369.7" y="722.46"/><use href="#Q" x="306.24" y="723.17"/><use href="#Q" x="395.57" y="682.4"/><use href="#Q" x="382.35" y="647.69"/><use href="#Q" x="419.81" y="659.98"/><use href="#Q" x="369.57" y="651.8"/><use href="#Q" x="373.55" y="682.46"/><use href="#Q" x="288.44" y="737.14"/><use href="#Q" x="429.27" y="641.51"/><use href="#Q" x="391.93" y="655.58"/><use href="#Q" x="329.78" y="705.63"/><use href="#Q" x="428.25" y="667.19"/><use href="#Q" x="363.99" y="697.59"/><use href="#Q" x="360.14" y="655.31"/><use href="#Q" x="407.18" y="651.99"/><use href="#Q" x="371.41" y="669.16"/><use href="#Q" x="402.1" y="660.85"/><use href="#Q" x="408.45" y="670.38"/><use href="#Q" x="395.32" y="664.04"/><use href="#Q" x="400.39" y="652.6"/><use href="#Q" x="368.21" y="661.77"/><use href="#Q" x="421.29" y="661.75"/><use href="#Q" x="399.81" y="660.16"/><use href="#Q" x="391.67" y="655.53"/><use href="#Q" x="371.92" y="648.34"/><use href="#Q" x="388.66" y="659.51"/><use href="#Q" x="395.89" y="640.9"/><use href="#Q" x="380.17" y="644.52"/><use href="#Q" x="379.89" y="674.96"/><use href="#Q" x="406.78" y="640.74"/><use href="#Q" x="399.31" y="674.97"/><use href="#Q" x="385.67" y="676.16"/><use href="#Q" x="393.22" y="641.58"/><use href="#Q" x="409.21" y="674.28"/><use href="#Q" x="415.84" y="646.05"/><use href="#Q" x="423.89" y="650.09"/><use href="#Q" x="415.91" y="656.36"/><use href="#Q" x="394.27" y="664.31"/><use href="#Q" x="380.29" y="655.38"/><use href="#Q" x="376.8" y="643.8"/><use href="#Q" x="412.72" y="656.68"/><use href="#Q" x="388.52" y="659.59"/><use href="#Q" x="391.92" y="655.62"/><use href="#Q" x="401.05" y="657.74"/><use href="#Q" x="391.11" y="640.45"/><use href="#Q" x="398.9" y="671.82"/><use href="#Q" x="400.21" y="665.39"/><use href="#Q" x="372.45" y="650.75"/><use href="#Q" x="380.93" y="638.35"/><use href="#Q" x="407.51" y="658.68"/><use href="#Q" x="408.19" y="667.01"/><use href="#Q" x="407.96" y="647.01"/><use href="#Q" x="418.77" y="647.11"/><use href="#Q" x="400.93" y="662.82"/><use href="#Q" x="408.27" y="647.62"/><use href="#Q" x="374.66" y="663.19"/><use href="#Q" x="387.21" y="645.86"/><use href="#Q" x="387.09" y="647.28"/><use href="#Q" x="389.25" y="640.18"/><use href="#Q" x="381.11" y="646.6"/><use href="#Q" x="421.04" y="661.45"/><use href="#Q" x="406.61" y="664.1"/><use href="#Q" x="407.81" y="663.68"/><use href="#Q" x="393.38" y="680.04"/><use href="#Q" x="382.64" y="653.55"/><use href="#Q" x="407.95" y="647.85"/><use href="#Q" x="413.39" y="660.19"/><use href="#G" x="394.55" y="638.18"/><use href="#G" x="402.59" y="636.58"/><use href="#G" x="420.28" y="663.91"/><use href="#G" x="394.55" y="692.86"/><use href="#G" x="384.9" y="689.64"/><use href="#G" x="352.74" y="683.21"/><use href="#G" x="362.39" y="671.95"/><use href="#G" x="291.64" y="731.45"/><use href="#G" x="301.29" y="728.23"/><use href="#G" x="285.21" y="736.27"/><use href="#G" x="382.56" y="695.98"/><use href="#G" x="354.69" y="690.83"/><use href="#G" x="365.19" y="707.65"/><use href="#G" x="364.23" y="702.09"/><use href="#G" x="350.48" y="715.32"/><use href="#G" x="354.19" y="709.54"/><use href="#G" x="367.28" y="697.32"/><use href="#G" x="373.83" y="695.88"/><use href="#G" x="347.15" y="705.11"/><use href="#G" x="348.08" y="693.73"/><use href="#G" x="352.14" y="703.98"/><use href="#G" x="381.96" y="702.64"/><use href="#G" x="346.08" y="707.44"/><use href="#G" x="380.74" y="703.34"/><use href="#G" x="364.46" y="698"/><use href="#G" x="361.25" y="684.75"/><use href="#G" x="353.55" y="710.05"/><use href="#G" x="351.4" y="694.05"/><use href="#G" x="360.8" y="714.06"/><use href="#G" x="367.98" y="704.73"/><use href="#G" x="378.22" y="693.21"/><use href="#G" x="379.18" y="694.81"/><use href="#G" x="362.47" y="702.8"/><use href="#G" x="343.77" y="698.99"/><use href="#G" x="344.94" y="700.85"/><use href="#G" x="366.33" y="714.84"/><use href="#G" x="359.7" y="710.89"/><use href="#G" x="365.82" y="702.64"/><use href="#G" x="359.04" y="706.95"/><use href="#G" x="362.39" y="698.61"/><use href="#G" x="376.02" y="686.6"/><use href="#G" x="352.71" y="713.62"/><use href="#G" x="375.64" y="703.13"/><use href="#G" x="342.73" y="702.27"/><use href="#G" x="338.47" y="709.52"/><use href="#G" x="359.74" y="692.99"/><use href="#G" x="373.97" y="696.59"/><use href="#G" x="352.96" y="710.42"/><use href="#G" x="369.73" y="710.92"/><use href="#G" x="347.03" y="704.2"/><use href="#G" x="367.39" y="704.83"/><use href="#G" x="372.31" y="691.06"/><use href="#G" x="353.8" y="697.1"/><use href="#G" x="376.7" y="707.73"/><use href="#G" x="368.31" y="714.72"/><use href="#G" x="383.18" y="698.62"/><use href="#G" x="358.61" y="691.47"/><use href="#G" x="336.44" y="701.41"/><use href="#G" x="370.78" y="713.53"/><use href="#G" x="346.89" y="711.71"/><use href="#G" x="349.36" y="700.01"/><use href="#G" x="363.15" y="690.98"/><use href="#G" x="367.26" y="692.98"/><use href="#G" x="374.85" y="690.69"/><use href="#G" x="335.06" y="701.7"/><use href="#G" x="366.92" y="690.26"/><use href="#G" x="376.76" y="706.12"/><use href="#G" x="338.5" y="703.24"/><use href="#G" x="381.76" y="707.25"/><use href="#G" x="376.87" y="692.75"/><use href="#G" x="365.51" y="702.35"/><use href="#G" x="362.78" y="698.4"/><use href="#G" x="370.41" y="697.92"/><use href="#G" x="346.5" y="697.25"/><use href="#G" x="359.42" y="708.8"/><use href="#G" x="352.22" y="699.08"/><use href="#G" x="364.72" y="686.25"/><use href="#G" x="372.84" y="709.9"/><use href="#G" x="362.14" y="713.74"/><use href="#G" x="367.3" y="704.2"/><use href="#G" x="377.15" y="690.75"/><use href="#G" x="370.35" y="685.69"/><use href="#G" x="370.72" y="704.03"/><use href="#G" x="361.75" y="707.35"/><use href="#G" x="372.07" y="697.43"/><use href="#G" x="375.41" y="700.95"/><use href="#G" x="334.48" y="707.22"/><use href="#G" x="368.73" y="709.09"/><use href="#G" x="337.81" y="707.75"/><use href="#G" x="356.48" y="713.35"/><use href="#G" x="411.15" y="669.14"/><use href="#G" x="364.87" y="722.37"/><use href="#G" x="376.29" y="696.54"/><use href="#G" x="384.76" y="677.07"/><use href="#G" x="300.92" y="751.67"/><use href="#G" x="386.61" y="676.68"/><use href="#G" x="402.68" y="659.64"/><use href="#G" x="382.31" y="664.5"/><use href="#G" x="295.6" y="743.12"/><use href="#G" x="334.68" y="727.35"/><use href="#G" x="323.64" y="737.99"/><use href="#G" x="381.34" y="680.64"/><use href="#G" x="301.07" y="764.71"/><use href="#G" x="297.03" y="749.84"/><use href="#G" x="392.02" y="672.9"/><use href="#G" x="402.58" y="655.31"/><use href="#G" x="401.29" y="673.64"/><use href="#G" x="420.95" y="652.29"/><use href="#G" x="393.37" y="676.6"/><use href="#G" x="400.43" y="661.74"/><use href="#G" x="305.82" y="743.79"/><use href="#G" x="294.83" y="754.49"/><use href="#G" x="318.04" y="741.53"/><use href="#G" x="383.99" y="677.86"/><use href="#G" x="378.86" y="691.45"/><use href="#G" x="292.97" y="750.94"/><use href="#G" x="302.26" y="741.66"/><use href="#G" x="351.47" y="730.29"/><use href="#G" x="375.52" y="681.63"/><use href="#G" x="288.6" y="738.59"/><use href="#G" x="374.06" y="686.65"/><use href="#G" x="416.34" y="656.88"/><use href="#G" x="388.1" y="686.07"/><use href="#G" x="305.25" y="740.92"/><use href="#G" x="390.11" y="684.83"/><use href="#G" x="383.03" y="664.94"/><use href="#G" x="324.56" y="736.3"/><use href="#G" x="356.85" y="720.63"/><use href="#G" x="307.52" y="734.52"/><use href="#G" x="322.48" y="732.52"/><use href="#G" x="309.7" y="740.87"/><use href="#G" x="323.98" y="732.79"/><use href="#G" x="373.11" y="699.5"/><use href="#G" x="309.77" y="741.75"/><use href="#G" x="313.36" y="734.25"/><use href="#G" x="421.97" y="655.76"/><use href="#G" x="356.66" y="721.27"/><use href="#G" x="305.98" y="760.21"/><use href="#G" x="299.93" y="745.87"/><use href="#G" x="295.19" y="756.25"/><use href="#G" x="388.05" y="671.65"/><use href="#G" x="370.45" y="720.48"/><use href="#G" x="317.39" y="743.99"/><use href="#G" x="376.96" y="697.28"/><use href="#G" x="383.18" y="695.21"/><use href="#G" x="377.35" y="711.17"/><use href="#G" x="309.98" y="759.88"/><use href="#G" x="378.02" y="696.48"/><use href="#G" x="331.91" y="739.63"/><use href="#G" x="318.41" y="739.32"/><use href="#G" x="315.57" y="734.35"/><use href="#G" x="397.78" y="658.31"/><use href="#G" x="373.3" y="710.97"/><use href="#G" x="306.11" y="738.51"/><use href="#G" x="324.37" y="739.29"/><use href="#G" x="313.58" y="740.4"/><use href="#G" x="416.57" y="650.19"/><use href="#G" x="304.84" y="744.77"/><use href="#G" x="293.93" y="747.74"/><use href="#G" x="403.71" y="643.11"/><use href="#G" x="323.46" y="750"/><use href="#G" x="370.1" y="720.8"/><use href="#G" x="374.6" y="700.12"/><use href="#G" x="304.78" y="759.23"/><use href="#G" x="391.54" y="659.74"/><use href="#G" x="379.51" y="684.3"/><use href="#G" x="297.82" y="734.8"/><use href="#G" x="329.38" y="739.03"/><use href="#G" x="408.53" y="667.2"/><use href="#G" x="410.22" y="645.87"/><use href="#G" x="302.81" y="755.72"/><use href="#G" x="358.82" y="723.04"/><use href="#G" x="408.34" y="656.66"/><use href="#G" x="381.24" y="678.55"/><use href="#G" x="396.76" y="670.91"/><use href="#G" x="384.33" y="691.4"/><use href="#G" x="322.5" y="733.06"/><use href="#G" x="310.04" y="742.34"/><use href="#G" x="377.88" y="706.48"/><use href="#G" x="368.71" y="716.09"/><use href="#G" x="421.84" y="655.54"/><use href="#G" x="291.22" y="750.1"/><use href="#G" x="297.84" y="746.08"/><use href="#G" x="335.23" y="725.93"/><use href="#G" x="372.92" y="687.33"/><use href="#G" x="314.03" y="743.35"/><use href="#Q" x="400.98" y="657.48"/><use href="#Q" x="407.41" y="647.83"/><use href="#Q" x="388.12" y="657.48"/><use href="#Q" x="413.85" y="663.91"/><use href="#Q" x="362.39" y="696.07"/><use href="#Q" x="327.02" y="721.8"/><use href="#Q" x="291.64" y="747.53"/><use href="#Q" x="304.5" y="741.1"/><use href="#Q" x="275.56" y="744.31"/></g>
<line x1="163.5" y1="898.3" x2="500.4" y2="561.4" stroke="#5c5c5c" stroke-width="2.4" stroke-dasharray="11.5 12.46" stroke-dashoffset="1.12" stroke-linecap="round"/>
<rect x="163.5" y="561.4" width="336.9" height="336.9" fill="none" stroke="#000" stroke-width="2.5" stroke-linejoin="round"/>
<path d="M163.5 898.3H148.5M163.5 898.3V914.6M163.5 814.07H148.5M247.72 898.3V914.6M163.5 729.85H148.5M331.95 898.3V914.6M163.5 645.62H148.5M416.17 898.3V914.6M163.5 561.4H148.5M500.4 898.3V914.6" stroke="#000" stroke-width="2.5" stroke-linecap="round" fill="none"/>
<text x="119.48" y="909.8" font-size="29.7">0</text>
<text x="155.24" y="957.7" font-size="29.7">0</text>
<text x="119.48" y="825.57" font-size="29.7">4</text>
<text x="239.47" y="957.7" font-size="29.7">4</text>
<text x="119.48" y="741.35" font-size="29.7">8</text>
<text x="323.69" y="957.7" font-size="29.7">8</text>
<use href="#one" transform="translate(102.96 657.12) scale(0.0297)"/><text x="119.48" y="657.12" font-size="29.7">2</text>
<use href="#one" transform="translate(399.66 957.7) scale(0.0297)"/><text x="416.17" y="957.7" font-size="29.7">2</text>
<use href="#one" transform="translate(102.96 572.9) scale(0.0297)"/><text x="119.48" y="572.9" font-size="29.7">6</text>
<use href="#one" transform="translate(483.88 957.7) scale(0.0297)"/><text x="500.4" y="957.7" font-size="29.7">6</text>
<text x="169.48" y="593.1" font-size="32.8">RMSE = </text><use href="#one" transform="translate(301.62 593.1) scale(0.0328)"/><text x="319.86" y="593.1" font-size="32.8">4%</text>
<g><use href="#Q" x="753.74" y="678.38"/><use href="#Q" x="791.36" y="674.2"/><use href="#Q" x="761.78" y="696.71"/><use href="#Q" x="776.25" y="716.98"/><use href="#Q" x="768.21" y="718.58"/><use href="#Q" x="811.62" y="683.21"/><use href="#Q" x="882.37" y="630.14"/><use href="#Q" x="892.02" y="628.54"/><use href="#Q" x="917.75" y="622.1"/><use href="#Q" x="941.87" y="623.71"/><use href="#Q" x="948.3" y="636.58"/><use href="#Q" x="935.44" y="630.14"/><use href="#Q" x="929.01" y="641.4"/><use href="#Q" x="938.65" y="644.62"/><use href="#Q" x="946.69" y="652.66"/><use href="#Q" x="925.79" y="667.13"/><use href="#Q" x="920.97" y="691.25"/><use href="#Q" x="906.49" y="699.29"/><use href="#Q" x="900.06" y="708.94"/><use href="#Q" x="883.98" y="716.98"/><use href="#Q" x="864.69" y="725.02"/><use href="#Q" x="851.82" y="745.92"/><use href="#Q" x="819.66" y="763.61"/><use href="#Q" x="800.37" y="699.29"/><use href="#Q" x="792.33" y="708.94"/><use href="#Q" x="871.12" y="657.48"/><use href="#Q" x="753.74" y="747.53"/><use href="#Q" x="761.78" y="750.74"/><use href="#Q" x="786.89" y="725.54"/><use href="#Q" x="870.51" y="691.1"/><use href="#Q" x="799.31" y="714.74"/><use href="#Q" x="755.02" y="749.78"/><use href="#Q" x="860.41" y="690.55"/><use href="#Q" x="887.02" y="695.19"/><use href="#Q" x="858.25" y="679.75"/><use href="#Q" x="887.17" y="699.01"/><use href="#Q" x="756.53" y="743.29"/><use href="#Q" x="873.19" y="694.65"/><use href="#Q" x="882.99" y="697.68"/><use href="#Q" x="881.87" y="685.08"/><use href="#Q" x="853.08" y="679"/><use href="#Q" x="823.32" y="693.26"/><use href="#Q" x="845.38" y="675.38"/><use href="#Q" x="866.9" y="687.11"/><use href="#Q" x="839.95" y="679.86"/><use href="#Q" x="825.11" y="693.44"/><use href="#Q" x="822.52" y="694.36"/><use href="#Q" x="820.94" y="695.23"/><use href="#Q" x="840.52" y="685.09"/><use href="#Q" x="793.06" y="714.81"/><use href="#Q" x="770.97" y="738.96"/><use href="#Q" x="851.3" y="684.42"/><use href="#Q" x="770" y="733.3"/><use href="#Q" x="886.92" y="693.68"/><use href="#Q" x="865.19" y="684.98"/><use href="#Q" x="877.52" y="699.24"/><use href="#Q" x="823.55" y="686.93"/><use href="#Q" x="845.96" y="677.58"/><use href="#Q" x="790.22" y="718.38"/><use href="#Q" x="818.95" y="694.61"/><use href="#Q" x="778.93" y="732.69"/><use href="#Q" x="755.58" y="745.41"/><use href="#Q" x="837.23" y="678.27"/><use href="#Q" x="858.86" y="677.87"/><use href="#Q" x="756.05" y="747.58"/><use href="#Q" x="875.62" y="680.3"/><use href="#Q" x="761.23" y="741.2"/><use href="#Q" x="880.69" y="681.46"/><use href="#Q" x="818.2" y="697.2"/><use href="#Q" x="868.42" y="682.53"/><use href="#Q" x="779.18" y="723.58"/><use href="#Q" x="778.01" y="734.52"/><use href="#Q" x="816.75" y="698.51"/><use href="#Q" x="770.36" y="736.33"/><use href="#Q" x="846.04" y="683.18"/><use href="#Q" x="785.09" y="730.53"/><use href="#Q" x="846.18" y="677.31"/><use href="#Q" x="784.46" y="724.63"/><use href="#Q" x="792.24" y="724.14"/><use href="#Q" x="882.73" y="691.03"/><use href="#Q" x="819.46" y="692.28"/><use href="#Q" x="841.74" y="677.53"/><use href="#Q" x="861.44" y="683.03"/><use href="#Q" x="855.66" y="689.82"/><use href="#Q" x="767.96" y="742.47"/><use href="#Q" x="880.79" y="681.49"/><use href="#Q" x="834.62" y="685.56"/><use href="#Q" x="841.17" y="681.49"/><use href="#Q" x="788.07" y="724.44"/><use href="#Q" x="855.94" y="682.11"/><use href="#Q" x="822.55" y="692.1"/><use href="#Q" x="800.28" y="713.83"/><use href="#Q" x="843.98" y="678.28"/><use href="#Q" x="756.53" y="740.84"/><use href="#Q" x="837.96" y="682.08"/><use href="#Q" x="845.58" y="679.09"/><use href="#Q" x="864.03" y="681.21"/><use href="#Q" x="785.56" y="722.72"/><use href="#Q" x="813.99" y="702.11"/><use href="#Q" x="872.9" y="685.95"/><use href="#Q" x="865.48" y="676.14"/><use href="#Q" x="776.07" y="728.07"/><use href="#Q" x="861.5" y="682.54"/><use href="#Q" x="880.98" y="688.4"/><use href="#Q" x="839.81" y="678.96"/><use href="#Q" x="838.87" y="686.45"/><use href="#Q" x="813.34" y="698.22"/><use href="#Q" x="822.51" y="688.4"/><use href="#Q" x="876.86" y="697.16"/><use href="#Q" x="765.63" y="737.06"/><use href="#Q" x="859.38" y="686.15"/><use href="#Q" x="878.31" y="682.07"/><use href="#Q" x="833.26" y="691.71"/><use href="#Q" x="877.48" y="699.44"/><use href="#Q" x="836.75" y="676.52"/><use href="#Q" x="840.22" y="680.18"/><use href="#Q" x="820.05" y="688.4"/><use href="#Q" x="844.31" y="673.63"/><use href="#Q" x="846.43" y="678.27"/><use href="#Q" x="846.64" y="689.1"/><use href="#Q" x="822.31" y="689.1"/><use href="#Q" x="765.48" y="742.24"/><use href="#Q" x="819.28" y="697.13"/><use href="#Q" x="773.39" y="729.81"/><use href="#Q" x="864.82" y="686.09"/><use href="#Q" x="880.9" y="704.04"/><use href="#Q" x="850.13" y="686.88"/><use href="#Q" x="850.86" y="673.6"/><use href="#Q" x="841.31" y="678.58"/><use href="#Q" x="756.5" y="749.4"/><use href="#Q" x="853.58" y="677.63"/><use href="#Q" x="860.02" y="677.26"/><use href="#Q" x="846.36" y="686.27"/><use href="#Q" x="777.89" y="729.95"/><use href="#Q" x="856.4" y="684.49"/><use href="#Q" x="830.96" y="683.63"/><use href="#Q" x="833.51" y="680.91"/><use href="#Q" x="850.58" y="674.77"/><use href="#Q" x="806.27" y="705.6"/><use href="#Q" x="777.32" y="726.03"/><use href="#Q" x="833.74" y="686"/><use href="#Q" x="772.99" y="732.44"/><use href="#Q" x="841.49" y="684.62"/><use href="#Q" x="769.92" y="731.09"/><use href="#Q" x="858.63" y="678.97"/><use href="#Q" x="760.41" y="737.68"/><use href="#Q" x="904.52" y="643.26"/><use href="#Q" x="917.42" y="644.96"/><use href="#Q" x="912" y="642.56"/><use href="#Q" x="904.97" y="639.48"/><use href="#Q" x="916.62" y="628.54"/><use href="#Q" x="932.5" y="653.45"/><use href="#Q" x="923.81" y="639.68"/><use href="#Q" x="908.93" y="632.41"/><use href="#Q" x="888.25" y="638.57"/><use href="#Q" x="918.43" y="646.9"/><use href="#Q" x="928.53" y="641.41"/><use href="#Q" x="927.2" y="641.01"/><use href="#Q" x="935.52" y="644.04"/><use href="#Q" x="937.17" y="632.96"/><use href="#Q" x="929.86" y="631.71"/><use href="#Q" x="888.07" y="639.06"/><use href="#Q" x="932.36" y="642.76"/><use href="#Q" x="883.76" y="638.66"/><use href="#Q" x="930.68" y="648.59"/><use href="#Q" x="917.6" y="644.96"/><use href="#Q" x="931.36" y="648.42"/><use href="#Q" x="936.99" y="645.22"/><use href="#Q" x="937.2" y="652.67"/><use href="#Q" x="911.54" y="642.62"/><use href="#Q" x="931.85" y="647.43"/><use href="#Q" x="891.72" y="645.27"/><use href="#Q" x="911.36" y="631.15"/><use href="#Q" x="922.44" y="645.24"/><use href="#Q" x="904.64" y="647.87"/><use href="#Q" x="917.07" y="639.88"/><use href="#Q" x="940.63" y="640.49"/><use href="#Q" x="905.52" y="634.47"/><use href="#Q" x="762.56" y="732.5"/><use href="#Q" x="767.55" y="749.66"/><use href="#Q" x="783.68" y="731.85"/><use href="#Q" x="769.67" y="736.75"/><use href="#Q" x="785.03" y="744.79"/><use href="#Q" x="766.71" y="751.81"/><use href="#Q" x="775.84" y="740.4"/><use href="#Q" x="778.15" y="733.68"/><use href="#Q" x="775.6" y="747"/><use href="#Q" x="777.49" y="744.65"/><use href="#Q" x="765.21" y="738.48"/><use href="#Q" x="778.52" y="732.71"/><use href="#Q" x="781.39" y="740.71"/><use href="#Q" x="780.51" y="740.29"/><use href="#Q" x="779.34" y="752.65"/><use href="#Q" x="782.2" y="740.47"/><use href="#Q" x="759.77" y="740.39"/><use href="#Q" x="778.71" y="745.34"/><use href="#Q" x="770.82" y="737.79"/><use href="#Q" x="754.82" y="747.64"/><use href="#Q" x="776.15" y="745.13"/><use href="#G" x="668.51" y="818.28"/><use href="#G" x="687.81" y="786.12"/><use href="#G" x="723.18" y="761.03"/><use href="#G" x="731.22" y="773.25"/><use href="#G" x="681.38" y="821.49"/><use href="#G" x="692.63" y="800.59"/><use href="#G" x="703.89" y="802.2"/><use href="#G" x="713.54" y="782.9"/><use href="#G" x="719.97" y="786.12"/><use href="#G" x="758.56" y="815.06"/><use href="#G" x="742.48" y="827.93"/><use href="#G" x="728.01" y="831.14"/><use href="#G" x="787.5" y="805.41"/><use href="#G" x="777.86" y="805.41"/><use href="#G" x="769.82" y="805.41"/><use href="#G" x="819.66" y="781.29"/><use href="#G" x="820.36" y="781.79"/><use href="#G" x="838.96" y="755.57"/><use href="#G" x="829.31" y="757.18"/><use href="#G" x="795.54" y="696.07"/><use href="#G" x="787.5" y="715.37"/><use href="#G" x="752.13" y="728.23"/><use href="#G" x="742.48" y="753.96"/><use href="#G" x="742.48" y="760.39"/><use href="#G" x="871.12" y="720.19"/><use href="#G" x="896.85" y="692.86"/><use href="#G" x="900.06" y="673.56"/><use href="#G" x="851.82" y="734.66"/><use href="#G" x="845.39" y="741.1"/><use href="#G" x="771.74" y="755.33"/><use href="#G" x="758.06" y="750.83"/><use href="#G" x="737.57" y="815.65"/><use href="#G" x="707.53" y="801.12"/><use href="#G" x="883.51" y="697.68"/><use href="#G" x="763.44" y="810.05"/><use href="#G" x="759.53" y="765.94"/><use href="#G" x="843.61" y="740.4"/><use href="#G" x="729.04" y="821.26"/><use href="#G" x="684.33" y="849.27"/><use href="#G" x="845.95" y="742.75"/><use href="#G" x="756.64" y="760.14"/><use href="#G" x="817.84" y="713.41"/><use href="#G" x="751.68" y="784.06"/><use href="#G" x="713.02" y="810.33"/><use href="#G" x="683.69" y="828.15"/><use href="#G" x="799.17" y="743.29"/><use href="#G" x="853.85" y="736.65"/><use href="#G" x="753.98" y="794.39"/><use href="#G" x="857.01" y="715.62"/><use href="#G" x="791.11" y="734.38"/><use href="#G" x="795.37" y="724.93"/><use href="#G" x="738.2" y="767.82"/><use href="#G" x="777.69" y="773.4"/><use href="#G" x="830.7" y="724.9"/><use href="#G" x="859.61" y="707.4"/><use href="#G" x="874.69" y="706.12"/><use href="#G" x="876.92" y="699.64"/><use href="#G" x="847.38" y="737.05"/><use href="#G" x="744.17" y="795.03"/><use href="#G" x="814.09" y="727.42"/><use href="#G" x="886.65" y="671.21"/><use href="#G" x="686.68" y="843.77"/><use href="#G" x="868.76" y="722.62"/><use href="#G" x="850.83" y="740.5"/><use href="#G" x="727.7" y="804.9"/><use href="#G" x="767.34" y="767.58"/><use href="#G" x="838.31" y="707.8"/><use href="#G" x="706.82" y="804.77"/><use href="#G" x="836.38" y="744.11"/><use href="#G" x="845.34" y="706.26"/><use href="#G" x="821.21" y="764.66"/><use href="#G" x="755" y="814.41"/><use href="#G" x="687.83" y="822.69"/><use href="#G" x="860.22" y="700.39"/><use href="#G" x="674.44" y="837.58"/><use href="#G" x="840.19" y="723.51"/><use href="#G" x="725.2" y="803.01"/><use href="#G" x="828.99" y="721.38"/><use href="#G" x="787.53" y="795.72"/><use href="#G" x="744.26" y="771.35"/><use href="#G" x="854.29" y="723.32"/><use href="#G" x="809.93" y="746.08"/><use href="#G" x="740.53" y="821.96"/><use href="#G" x="729.9" y="788.29"/><use href="#G" x="864.66" y="725.41"/><use href="#G" x="724.8" y="780.67"/><use href="#G" x="767.42" y="770.68"/><use href="#G" x="817.71" y="750.45"/><use href="#G" x="859.94" y="731.92"/><use href="#G" x="765.2" y="752.65"/><use href="#G" x="701.87" y="836.6"/><use href="#G" x="775.67" y="761.68"/><use href="#G" x="710.93" y="823.17"/><use href="#G" x="817.53" y="728.87"/><use href="#G" x="802.1" y="738.48"/><use href="#G" x="830.45" y="711.93"/><use href="#G" x="781.16" y="746.04"/><use href="#G" x="792.9" y="744.87"/><use href="#G" x="744.32" y="806.74"/><use href="#G" x="783.4" y="745.19"/><use href="#G" x="760.22" y="760.96"/><use href="#G" x="884.4" y="685.01"/><use href="#G" x="881.96" y="702.79"/><use href="#G" x="872.96" y="694.23"/><use href="#G" x="804.41" y="753.84"/><use href="#G" x="817.19" y="728.29"/><use href="#G" x="894.59" y="685.33"/><use href="#G" x="907.86" y="661.6"/><use href="#G" x="820.05" y="728.06"/><use href="#G" x="872.85" y="701.86"/><use href="#G" x="725.92" y="787.58"/><use href="#G" x="711.99" y="804.72"/><use href="#G" x="776.48" y="792.49"/><use href="#G" x="788.19" y="784.91"/><use href="#G" x="709.94" y="839.72"/><use href="#G" x="810.66" y="745.47"/><use href="#G" x="784.6" y="749.25"/><use href="#G" x="747.42" y="788.45"/><use href="#G" x="724.99" y="779.57"/><use href="#G" x="801.75" y="736.79"/><use href="#G" x="896.47" y="672.67"/><use href="#G" x="836.81" y="721.3"/><use href="#G" x="806.42" y="722.71"/><use href="#G" x="733.5" y="818.97"/><use href="#G" x="679.6" y="844.25"/><use href="#G" x="670.01" y="835.74"/><use href="#G" x="739.57" y="795.67"/><use href="#G" x="847.74" y="724.55"/><use href="#G" x="769.3" y="805.29"/><use href="#G" x="844.56" y="727.59"/><use href="#G" x="811.37" y="768.7"/><use href="#G" x="889.98" y="669.65"/><use href="#G" x="718.12" y="816.36"/><use href="#G" x="749.17" y="787.26"/><use href="#G" x="795.67" y="738.86"/><use href="#G" x="774.9" y="737.53"/><use href="#G" x="851.73" y="736.12"/><use href="#G" x="791.78" y="787.47"/><use href="#G" x="709.69" y="826.34"/><use href="#G" x="802.81" y="741"/><use href="#G" x="785.24" y="780.84"/><use href="#G" x="837.48" y="720.25"/><use href="#G" x="692.76" y="806.63"/><use href="#G" x="693.16" y="845.58"/><use href="#G" x="736.13" y="791.86"/><use href="#G" x="814.74" y="747.34"/><use href="#G" x="739.13" y="771.11"/><use href="#G" x="700.93" y="842.79"/><use href="#G" x="727.1" y="793.21"/><use href="#G" x="689.57" y="860.15"/><use href="#G" x="783.15" y="777"/><use href="#G" x="731.69" y="789.83"/><use href="#G" x="848.24" y="717.1"/><use href="#G" x="857.5" y="712.57"/><use href="#G" x="833.03" y="707.54"/><use href="#G" x="840.53" y="720.93"/><use href="#G" x="704.13" y="826.01"/><use href="#G" x="680.27" y="829.95"/><use href="#G" x="699.45" y="851.55"/><use href="#G" x="888.54" y="687.48"/><use href="#G" x="782.22" y="749.59"/><use href="#G" x="675.77" y="852.34"/><use href="#G" x="760.3" y="783.2"/><use href="#G" x="781.07" y="801.03"/><use href="#G" x="765.5" y="746.83"/><use href="#G" x="750.01" y="765.79"/><use href="#G" x="740.42" y="789.13"/><use href="#G" x="809.69" y="730.34"/><use href="#G" x="709.58" y="827.84"/><use href="#G" x="684.48" y="830.47"/><use href="#G" x="745.09" y="774.43"/><use href="#G" x="688.71" y="822.43"/><use href="#G" x="839.55" y="730.79"/><use href="#G" x="814.3" y="768.59"/><use href="#G" x="753.48" y="769.28"/><use href="#G" x="837.3" y="738.94"/><use href="#G" x="817.34" y="733.57"/><use href="#G" x="785.7" y="767.72"/><use href="#G" x="803.59" y="757.71"/><use href="#G" x="776.35" y="785.26"/><use href="#G" x="702.71" y="834.62"/><use href="#G" x="686.58" y="847.93"/><use href="#G" x="759.34" y="772.2"/><use href="#G" x="873.41" y="697.17"/><use href="#G" x="764.83" y="776.13"/><use href="#G" x="789.32" y="767.09"/><use href="#G" x="761.98" y="756.65"/><use href="#G" x="889.75" y="666.26"/><use href="#G" x="787.38" y="770.53"/><use href="#G" x="880.18" y="676.04"/><use href="#G" x="838.6" y="707.27"/><use href="#G" x="849.04" y="735.31"/><use href="#G" x="715.28" y="795.47"/><use href="#G" x="775.56" y="776.04"/><use href="#G" x="766.59" y="808.44"/><use href="#G" x="828.97" y="741.22"/><use href="#G" x="813.02" y="732.19"/><use href="#G" x="846.98" y="726.25"/><use href="#G" x="769.57" y="788.93"/><use href="#G" x="836.01" y="726.83"/><use href="#G" x="792.04" y="723.36"/><use href="#G" x="814.14" y="755.72"/><use href="#G" x="817.74" y="713.97"/><use href="#G" x="721.24" y="792.71"/><use href="#G" x="697.51" y="841.88"/><use href="#G" x="818.22" y="724.44"/><use href="#G" x="880.93" y="680.8"/><use href="#G" x="700.51" y="831.7"/><use href="#G" x="791.27" y="755.08"/><use href="#G" x="809.97" y="714.19"/><use href="#G" x="693.87" y="817.47"/><use href="#G" x="724.93" y="815.79"/><use href="#G" x="885.74" y="697.46"/><use href="#G" x="847.24" y="717.13"/><use href="#G" x="711.31" y="799.91"/><use href="#G" x="708.27" y="823.1"/><use href="#G" x="821.43" y="725.97"/><use href="#G" x="787.23" y="782.52"/><use href="#G" x="677.5" y="823.78"/><use href="#G" x="770.93" y="753.42"/><use href="#G" x="716.36" y="817.7"/><use href="#G" x="700.98" y="847.85"/><use href="#G" x="836.17" y="733.54"/><use href="#G" x="826.11" y="753.12"/><use href="#G" x="880.43" y="680.45"/><use href="#G" x="785.12" y="762.69"/><use href="#G" x="755.57" y="779.27"/><use href="#G" x="840.45" y="716.81"/><use href="#G" x="791.63" y="770.04"/><use href="#G" x="771.53" y="789.82"/><use href="#G" x="780.53" y="767.9"/><use href="#G" x="895" y="664.7"/><use href="#G" x="833.02" y="715.41"/><use href="#G" x="852.4" y="712.92"/><use href="#G" x="852.43" y="703.84"/><use href="#G" x="683.14" y="844.95"/><use href="#G" x="827.06" y="749.21"/><use href="#G" x="834.23" y="716.67"/><use href="#G" x="727.11" y="816.83"/><use href="#G" x="822.38" y="717.11"/><use href="#G" x="753.93" y="782.4"/><use href="#G" x="886.21" y="664.47"/><use href="#G" x="747.84" y="788.02"/><use href="#G" x="852.27" y="725.61"/><use href="#G" x="693.97" y="841.81"/><use href="#G" x="890.56" y="660.14"/><use href="#G" x="823.05" y="744.05"/><use href="#G" x="760" y="777.38"/><use href="#G" x="811.49" y="733.69"/><use href="#G" x="829.81" y="737.25"/><use href="#G" x="693.87" y="828.63"/><use href="#G" x="776.87" y="770.82"/><use href="#G" x="710.09" y="826.14"/><use href="#G" x="864.08" y="700.33"/><use href="#G" x="769.25" y="779.34"/><use href="#G" x="882.05" y="677.1"/><use href="#G" x="739.8" y="813.95"/><use href="#G" x="822.58" y="720.24"/><use href="#G" x="703.66" y="828.37"/><use href="#G" x="793.12" y="766.8"/><use href="#G" x="696.22" y="833.72"/><use href="#G" x="757.33" y="793.67"/><use href="#G" x="732.57" y="798.63"/><use href="#G" x="888.44" y="661.13"/><use href="#G" x="826.57" y="750.22"/><use href="#G" x="844.08" y="706.09"/><use href="#G" x="845.76" y="706.06"/><use href="#G" x="791.75" y="741.36"/><use href="#G" x="827.98" y="749.08"/><use href="#G" x="732.3" y="808.81"/><use href="#G" x="743.18" y="810.64"/><use href="#G" x="787.72" y="740.01"/><use href="#G" x="809.11" y="737.9"/><use href="#G" x="760.41" y="771.93"/><use href="#G" x="775.68" y="783.52"/><use href="#G" x="790.05" y="773.5"/><use href="#G" x="780.18" y="764.83"/><use href="#G" x="816.89" y="749.36"/><use href="#G" x="764.31" y="789.71"/><use href="#G" x="892.06" y="661.65"/><use href="#G" x="688.76" y="845.47"/><use href="#G" x="847.87" y="732.68"/><use href="#G" x="710.2" y="828.89"/><use href="#G" x="739.89" y="801.25"/><use href="#G" x="832.03" y="723.21"/><use href="#G" x="772.68" y="767.11"/><use href="#G" x="703.45" y="824.56"/><use href="#G" x="886.84" y="677.32"/><use href="#G" x="803.06" y="737.57"/><use href="#G" x="856.06" y="717.91"/><use href="#G" x="803.77" y="731.78"/><use href="#G" x="850.12" y="722.14"/><use href="#G" x="808.79" y="763.78"/><use href="#G" x="853.73" y="713.09"/><use href="#G" x="783.86" y="776.98"/><use href="#G" x="802.61" y="745.05"/><use href="#G" x="708.53" y="816.42"/><use href="#G" x="791.66" y="751.88"/><use href="#G" x="690.56" y="842.19"/><use href="#G" x="808.87" y="752.77"/><use href="#G" x="841.17" y="704.58"/><use href="#G" x="810.69" y="762.42"/><use href="#G" x="847.84" y="720.59"/><use href="#G" x="807.69" y="748.68"/><use href="#G" x="737.99" y="806.59"/><use href="#G" x="819.1" y="729.62"/><use href="#G" x="758.23" y="801.24"/><use href="#G" x="887.78" y="668.46"/><use href="#G" x="784.05" y="746.5"/><use href="#G" x="789.15" y="758.63"/><use href="#G" x="721.16" y="810.31"/><use href="#G" x="728.77" y="812.41"/><use href="#G" x="725.74" y="814.15"/><use href="#G" x="754.27" y="796.22"/><use href="#G" x="837.93" y="737.99"/><use href="#G" x="683.7" y="846.65"/><use href="#G" x="799.23" y="752.67"/><use href="#G" x="889.97" y="671.46"/><use href="#G" x="816.54" y="716.71"/><use href="#G" x="787.22" y="746.94"/><use href="#G" x="852.5" y="711.08"/><use href="#G" x="805.21" y="729.38"/><use href="#G" x="852.95" y="704.91"/><use href="#G" x="803.68" y="766.38"/><use href="#G" x="897.77" y="661.84"/><use href="#G" x="773.07" y="756.5"/><use href="#G" x="762.92" y="767.6"/><use href="#G" x="840.68" y="734.32"/><use href="#G" x="713.62" y="824.55"/><use href="#G" x="886.72" y="667.74"/><use href="#G" x="729.92" y="800.51"/><use href="#G" x="836.05" y="714.55"/><use href="#G" x="820.57" y="722.28"/><use href="#G" x="814.78" y="735.31"/><use href="#G" x="761.93" y="771.96"/><use href="#G" x="851.19" y="723.81"/><use href="#G" x="782.84" y="778.45"/><use href="#G" x="751.89" y="796.85"/><use href="#G" x="679.51" y="846.03"/><use href="#G" x="842.47" y="711.67"/><use href="#G" x="803" y="730.66"/><use href="#G" x="847.12" y="729.92"/><use href="#G" x="787.44" y="752.28"/><use href="#G" x="798.65" y="737.79"/><use href="#G" x="778.49" y="763.88"/><use href="#G" x="823.8" y="736.17"/><use href="#G" x="861.36" y="713.41"/><use href="#G" x="843.88" y="719.39"/><use href="#G" x="794.61" y="773.49"/><use href="#G" x="803.05" y="748.33"/><use href="#G" x="740.61" y="803.21"/><use href="#G" x="846.07" y="705.91"/><use href="#G" x="750.02" y="807.82"/><use href="#G" x="769.23" y="768.55"/><use href="#G" x="755.43" y="784.54"/><use href="#G" x="882.5" y="686.68"/><use href="#G" x="710.86" y="818.91"/><use href="#G" x="817.36" y="735.55"/><use href="#G" x="847.31" y="709.36"/><use href="#G" x="821.62" y="749.53"/><use href="#G" x="858.99" y="704.51"/><use href="#G" x="718.89" y="819.78"/><use href="#G" x="735.17" y="792.71"/><use href="#G" x="815.79" y="739.72"/><use href="#G" x="784.77" y="744.64"/><use href="#G" x="849.72" y="712.97"/><use href="#G" x="780.08" y="747.34"/><use href="#G" x="822.14" y="716.55"/><use href="#G" x="770.22" y="762.81"/><use href="#G" x="831.89" y="736.87"/><use href="#G" x="817.24" y="740.86"/><use href="#G" x="803.09" y="729.74"/><use href="#G" x="800.01" y="746.83"/><use href="#G" x="803.99" y="739.71"/><use href="#G" x="805.18" y="725.39"/><use href="#G" x="831.31" y="745.18"/><use href="#G" x="739.19" y="802.09"/><use href="#G" x="886.82" y="657.27"/><use href="#G" x="759.26" y="783.15"/><use href="#G" x="859.57" y="715.84"/><use href="#G" x="818.23" y="760.25"/><use href="#G" x="784.63" y="747.37"/><use href="#G" x="886.77" y="673.52"/><use href="#G" x="860.11" y="714.26"/><use href="#G" x="711.12" y="819.11"/><use href="#G" x="806.24" y="763.92"/><use href="#G" x="800.29" y="753.96"/><use href="#G" x="690.4" y="848.81"/><use href="#G" x="705.04" y="823.24"/><use href="#G" x="797.58" y="763.08"/><use href="#G" x="850.89" y="717.79"/><use href="#G" x="827.46" y="738.6"/><use href="#G" x="776.99" y="755.7"/><use href="#G" x="815.66" y="733.19"/><use href="#G" x="774.83" y="782.44"/><use href="#G" x="828.38" y="736.28"/><use href="#G" x="811.88" y="732.86"/><use href="#G" x="729.12" y="799.21"/><use href="#G" x="834.49" y="734.63"/><use href="#G" x="835.79" y="708.75"/><use href="#G" x="836.05" y="738.09"/><use href="#G" x="806.44" y="728.01"/><use href="#G" x="740.62" y="811.78"/><use href="#G" x="828.09" y="727.23"/><use href="#G" x="761.94" y="793.36"/><use href="#G" x="789.48" y="756.82"/><use href="#G" x="833.96" y="715.47"/><use href="#G" x="767.55" y="785.31"/><use href="#G" x="861.01" y="708.99"/><use href="#G" x="833.36" y="735.04"/><use href="#G" x="768.13" y="763.87"/><use href="#G" x="878.77" y="685.43"/><use href="#G" x="821.46" y="740.64"/><use href="#G" x="886.4" y="668.85"/><use href="#G" x="757.53" y="795.44"/><use href="#G" x="745.5" y="798.78"/><use href="#G" x="891.87" y="663.51"/><use href="#G" x="704.6" y="819.2"/><use href="#G" x="798.4" y="741.51"/><use href="#G" x="725.48" y="817.16"/><use href="#G" x="835.38" y="713.71"/><use href="#G" x="842.54" y="721.78"/><use href="#G" x="813.2" y="748.9"/><use href="#G" x="838.32" y="736.12"/><use href="#G" x="876.32" y="690.96"/><use href="#G" x="840.24" y="708.97"/><use href="#G" x="867.67" y="700.43"/><use href="#G" x="776.63" y="785.14"/><use href="#G" x="824.94" y="736.75"/><use href="#G" x="695.13" y="834.8"/><use href="#G" x="738.91" y="807.55"/><use href="#G" x="818.16" y="760.8"/><use href="#G" x="872.04" y="696.18"/><use href="#G" x="843.44" y="714.71"/><use href="#G" x="819.8" y="741.32"/><use href="#G" x="815.05" y="741.97"/><use href="#G" x="753.34" y="790.13"/><use href="#G" x="710.33" y="822.69"/><use href="#G" x="735.26" y="793.68"/><use href="#G" x="820.26" y="753.49"/><use href="#G" x="683.2" y="847.66"/><use href="#G" x="885.32" y="669.1"/><use href="#G" x="814.12" y="751.04"/><use href="#G" x="803.79" y="766.19"/><use href="#G" x="810.84" y="738.31"/><use href="#G" x="728.94" y="799.84"/><use href="#G" x="782.68" y="760.64"/><use href="#G" x="803.72" y="735.19"/><use href="#G" x="824.51" y="723.49"/><use href="#G" x="760.99" y="767.79"/><use href="#G" x="861.87" y="705.99"/><use href="#G" x="807.25" y="720.22"/><use href="#G" x="826.23" y="733.01"/><use href="#G" x="753.22" y="780.08"/><use href="#G" x="689.03" y="844.99"/><use href="#G" x="736.96" y="804.71"/><use href="#G" x="844.13" y="714.36"/><use href="#G" x="782.27" y="756.74"/><use href="#G" x="841.13" y="728.05"/><use href="#G" x="857.02" y="702.37"/><use href="#G" x="818.61" y="722.21"/><use href="#G" x="884.99" y="680.82"/><use href="#G" x="824.2" y="733.83"/><use href="#G" x="686.36" y="844.18"/><use href="#G" x="695.96" y="835.8"/><use href="#G" x="887.34" y="658.92"/><use href="#G" x="833.51" y="747.88"/><use href="#G" x="865.44" y="704.34"/><use href="#G" x="841.89" y="728.34"/><use href="#G" x="786.12" y="779.84"/><use href="#G" x="891.87" y="672.69"/><use href="#G" x="789.44" y="775.61"/><use href="#G" x="834.62" y="734.58"/><use href="#G" x="849.72" y="709.15"/><use href="#G" x="869.87" y="699.62"/><use href="#G" x="729.8" y="815.55"/><use href="#G" x="764.44" y="780.36"/><use href="#G" x="784.49" y="760.62"/><use href="#G" x="885.41" y="672.55"/><use href="#G" x="761.21" y="781.37"/><use href="#G" x="848.59" y="714.2"/><use href="#G" x="832.97" y="728.09"/><use href="#G" x="883.93" y="664.5"/><use href="#G" x="837.78" y="734.04"/><use href="#G" x="756.02" y="803.21"/><use href="#G" x="812.67" y="735.91"/><use href="#G" x="684.32" y="840.12"/><use href="#G" x="775.92" y="771.19"/><use href="#G" x="748.86" y="792.01"/><use href="#G" x="781.92" y="755.95"/><use href="#G" x="807.89" y="752.87"/><use href="#G" x="809.01" y="731.59"/><use href="#G" x="685.58" y="847.02"/><use href="#G" x="698.78" y="842.34"/><use href="#G" x="689.65" y="843.01"/><use href="#G" x="830.32" y="747.32"/><use href="#G" x="810.81" y="720.46"/><use href="#G" x="825.12" y="710.98"/><use href="#G" x="779.8" y="768.13"/><use href="#G" x="830.89" y="710.7"/><use href="#G" x="811.16" y="749.47"/><use href="#G" x="822.6" y="758.2"/><use href="#G" x="711.04" y="821.6"/><use href="#G" x="826.49" y="735.99"/><use href="#G" x="757.41" y="804.62"/><use href="#G" x="884.63" y="677.43"/><use href="#G" x="755.61" y="771.85"/><use href="#G" x="780.3" y="752.08"/><use href="#G" x="709.27" y="819.39"/><use href="#G" x="824.64" y="741.57"/><use href="#G" x="771.4" y="771.77"/><use href="#G" x="781.36" y="760.88"/><use href="#G" x="855.09" y="711.9"/><use href="#G" x="822" y="744.17"/><use href="#G" x="896.42" y="663.58"/><use href="#G" x="768.47" y="791.52"/><use href="#G" x="848.67" y="719.53"/><use href="#G" x="697.4" y="833.64"/><use href="#G" x="824.98" y="735.69"/><use href="#G" x="895" y="667.53"/><use href="#G" x="782.8" y="779.66"/><use href="#G" x="835.77" y="730.69"/><use href="#G" x="831.63" y="719.94"/><use href="#G" x="805.15" y="733.14"/><use href="#G" x="773.53" y="777.69"/><use href="#G" x="780.4" y="762.42"/><use href="#G" x="848.1" y="731.59"/><use href="#G" x="812.89" y="720.76"/><use href="#G" x="700.84" y="835.26"/><use href="#G" x="771.98" y="783.61"/><use href="#G" x="853.51" y="716.98"/><use href="#G" x="770.46" y="771.85"/><use href="#G" x="813.2" y="730.34"/><use href="#G" x="790.04" y="736.59"/><use href="#G" x="801.86" y="757.1"/><use href="#G" x="800.65" y="757.39"/><use href="#G" x="806.15" y="745.72"/><use href="#G" x="824.95" y="711.34"/><use href="#G" x="815.1" y="721.59"/><use href="#G" x="826" y="752.83"/><use href="#G" x="733.51" y="800.8"/><use href="#G" x="775.1" y="756.67"/><use href="#G" x="829.08" y="724.12"/><use href="#G" x="711.87" y="815.21"/><use href="#G" x="813.32" y="750.33"/><use href="#G" x="792.82" y="737.14"/><use href="#G" x="818.01" y="739.21"/><use href="#G" x="795.14" y="751.42"/><use href="#G" x="834.05" y="735.4"/><use href="#G" x="823.47" y="725.93"/><use href="#G" x="817.96" y="754.58"/><use href="#G" x="753.11" y="801.32"/><use href="#G" x="714.47" y="811.72"/><use href="#G" x="706.79" y="833.48"/><use href="#G" x="782.36" y="780.67"/><use href="#G" x="725.91" y="808.06"/><use href="#G" x="747.34" y="782.63"/><use href="#G" x="844.99" y="715.26"/><use href="#G" x="771" y="769.06"/><use href="#G" x="765.74" y="789.79"/><use href="#G" x="772.59" y="776.2"/><use href="#G" x="891.79" y="657.18"/><use href="#G" x="817.07" y="735.93"/><use href="#G" x="840.04" y="718.12"/><use href="#G" x="850.12" y="729.51"/><use href="#G" x="815.14" y="755.17"/><use href="#G" x="771.71" y="761.91"/><use href="#G" x="815.42" y="724.68"/><use href="#G" x="687.33" y="836.81"/><use href="#G" x="835.82" y="743.92"/><use href="#G" x="817.34" y="713.98"/><use href="#G" x="850.56" y="714.85"/><use href="#G" x="809.48" y="764.53"/><use href="#G" x="794.79" y="773.66"/><use href="#G" x="734.77" y="800.86"/><use href="#G" x="831.49" y="715.88"/><use href="#G" x="686.86" y="833.61"/><use href="#G" x="707.6" y="828.37"/><use href="#G" x="782.69" y="770.22"/><use href="#G" x="710.36" y="827.16"/><use href="#G" x="763.38" y="791.67"/><use href="#G" x="790.66" y="770.23"/><use href="#G" x="760.14" y="779.4"/><use href="#G" x="805.83" y="736.27"/><use href="#G" x="753.65" y="786.03"/><use href="#G" x="760.44" y="794.94"/><use href="#G" x="732.5" y="800.6"/><use href="#G" x="879.78" y="679.36"/><use href="#G" x="753.98" y="796.83"/><use href="#G" x="714.4" y="820.44"/><use href="#G" x="818.33" y="749.46"/><use href="#G" x="703.67" y="832.36"/><use href="#G" x="792.17" y="772.05"/><use href="#G" x="719.78" y="815.7"/><use href="#G" x="886.61" y="657.98"/><use href="#G" x="852.35" y="718.82"/><use href="#G" x="821.43" y="750.21"/><use href="#G" x="765.2" y="763.48"/><use href="#G" x="814.95" y="724.03"/><use href="#G" x="691.61" y="832.99"/><use href="#G" x="885.97" y="669.15"/><use href="#G" x="718.31" y="818.72"/><use href="#G" x="819.73" y="733.55"/><use href="#G" x="756.28" y="795.91"/><use href="#G" x="843.71" y="710.2"/><use href="#G" x="839.98" y="720.34"/><use href="#G" x="758.76" y="801.88"/><use href="#G" x="752.25" y="797.15"/><use href="#G" x="817.11" y="718.51"/><use href="#G" x="793.67" y="765.64"/><use href="#G" x="747.4" y="779.43"/><use href="#G" x="880.57" y="675.33"/><use href="#G" x="725.06" y="809.68"/><use href="#G" x="881.43" y="671.88"/><use href="#G" x="713.4" y="815.72"/><use href="#G" x="785.03" y="749.68"/><use href="#G" x="753.36" y="777.81"/><use href="#G" x="818.43" y="735.22"/><use href="#G" x="756.05" y="802.98"/><use href="#G" x="790.69" y="768.62"/><use href="#G" x="813.21" y="747.02"/><use href="#G" x="819.53" y="752.73"/><use href="#G" x="816.24" y="743.16"/><use href="#G" x="815.63" y="732.38"/><use href="#G" x="805.34" y="724.93"/><use href="#G" x="831.38" y="734.7"/><use href="#G" x="890.93" y="658.6"/><use href="#G" x="837.29" y="736.84"/><use href="#G" x="839.14" y="711.25"/><use href="#G" x="799.24" y="760.2"/><use href="#G" x="757.34" y="791.09"/><use href="#G" x="789.01" y="745.35"/><use href="#G" x="836.86" y="718.82"/><use href="#G" x="850.26" y="708.77"/><use href="#G" x="806.74" y="759.66"/><use href="#G" x="847.2" y="709.8"/><use href="#G" x="771.9" y="788.25"/><use href="#G" x="794.66" y="743.98"/><use href="#G" x="750.67" y="798.46"/><use href="#G" x="832.15" y="732.32"/><use href="#G" x="795.53" y="735.43"/><use href="#G" x="875.63" y="697.67"/><use href="#G" x="713.9" y="812.51"/><use href="#G" x="774.78" y="772.19"/><use href="#G" x="691.34" y="836.62"/><use href="#G" x="765.75" y="783.06"/><use href="#G" x="817.62" y="743.64"/><use href="#G" x="762.36" y="790.63"/><use href="#G" x="771.12" y="779.62"/><use href="#G" x="817.91" y="758.41"/><use href="#G" x="829.05" y="713.56"/><use href="#G" x="852" y="724.14"/><use href="#G" x="776.37" y="756.9"/><use href="#G" x="741.45" y="792.57"/><use href="#G" x="773.96" y="757.93"/><use href="#G" x="813.8" y="732.62"/><use href="#G" x="689.18" y="845.6"/><use href="#G" x="816.01" y="744.95"/><use href="#G" x="839.26" y="706.77"/><use href="#G" x="794.44" y="753.68"/><use href="#G" x="823.6" y="726.95"/><use href="#G" x="721.52" y="810.85"/><use href="#G" x="700.32" y="831.23"/><use href="#G" x="861.03" y="710.88"/><use href="#G" x="850.96" y="702.91"/><use href="#G" x="810.71" y="725.67"/><use href="#G" x="714.01" y="816.67"/><use href="#G" x="811.76" y="750.76"/><use href="#G" x="800.93" y="726.06"/><use href="#G" x="806.01" y="738.09"/><use href="#G" x="721.89" y="817.9"/><use href="#G" x="682.7" y="846.55"/><use href="#G" x="742.13" y="800.94"/><use href="#G" x="883.57" y="670.44"/><use href="#G" x="750.22" y="786.92"/><use href="#G" x="813.39" y="718.54"/><use href="#G" x="878.72" y="693.62"/><use href="#G" x="747.17" y="793.2"/><use href="#G" x="820.73" y="743.53"/><use href="#G" x="744.87" y="786.79"/><use href="#G" x="866.6" y="708.76"/><use href="#G" x="893.4" y="657.54"/><use href="#G" x="801.99" y="762.83"/><use href="#G" x="822.14" y="735.95"/><use href="#G" x="750.97" y="789.98"/><use href="#G" x="791.7" y="740.59"/><use href="#G" x="894.09" y="660.6"/><use href="#G" x="804.14" y="733.83"/><use href="#G" x="882.02" y="680"/><use href="#G" x="861.94" y="710"/><use href="#G" x="684.97" y="855.92"/><use href="#G" x="764.45" y="781.81"/><use href="#G" x="805.6" y="762.14"/><use href="#G" x="804.21" y="745.82"/><use href="#G" x="743.37" y="795.87"/><use href="#G" x="779.35" y="783.36"/><use href="#G" x="844.46" y="707.81"/><use href="#G" x="850.07" y="716.81"/><use href="#G" x="838.89" y="714.06"/><use href="#G" x="834.05" y="711.43"/><use href="#G" x="800.67" y="729.31"/><use href="#G" x="774.33" y="788.06"/><use href="#G" x="728.99" y="812.42"/><use href="#G" x="801.38" y="768.52"/><use href="#G" x="878.76" y="686.49"/><use href="#G" x="806.89" y="766.11"/><use href="#G" x="747.17" y="788.57"/><use href="#G" x="711.44" y="822.32"/><use href="#G" x="849.62" y="720.18"/><use href="#G" x="753.08" y="805.18"/><use href="#G" x="892.67" y="664.99"/><use href="#G" x="806.42" y="766.47"/><use href="#G" x="801.64" y="765.19"/><use href="#G" x="826.1" y="689.64"/><use href="#G" x="813.23" y="699.29"/><use href="#G" x="797.15" y="712.15"/><use href="#G" x="784.29" y="721.8"/><use href="#G" x="774.64" y="731.45"/><use href="#G" x="855.04" y="683.21"/><use href="#G" x="871.12" y="679.99"/><use href="#G" x="768.21" y="728.23"/><use href="#G" x="758.56" y="734.66"/><use href="#Q" x="842.18" y="673.56"/><use href="#Q" x="851.82" y="671.95"/><use href="#Q" x="877.55" y="679.99"/><use href="#Q" x="883.98" y="689.64"/><use href="#Q" x="813.23" y="689.64"/><use href="#Q" x="826.1" y="686.42"/><use href="#Q" x="761.78" y="750.74"/><use href="#Q" x="768.21" y="741.1"/><use href="#Q" x="781.07" y="741.1"/><use href="#Q" x="912.93" y="641.4"/><use href="#Q" x="929.01" y="647.83"/></g>
<line x1="646" y1="898.3" x2="982.7" y2="561.4" stroke="#5c5c5c" stroke-width="2.4" stroke-dasharray="11.5 12.46" stroke-dashoffset="11.87" stroke-linecap="round"/>
<rect x="646" y="561.4" width="336.7" height="336.9" fill="none" stroke="#000" stroke-width="2.5" stroke-linejoin="round"/>
<path d="M646 898.3H631M646 898.3V914.6M646 814.07H631M730.17 898.3V914.6M646 729.85H631M814.35 898.3V914.6M646 645.62H631M898.53 898.3V914.6M646 561.4H631M982.7 898.3V914.6" stroke="#000" stroke-width="2.5" stroke-linecap="round" fill="none"/>
<text x="601.98" y="909.8" font-size="29.7">0</text>
<text x="637.74" y="957.7" font-size="29.7">0</text>
<text x="601.98" y="825.57" font-size="29.7">4</text>
<text x="721.92" y="957.7" font-size="29.7">4</text>
<text x="601.98" y="741.35" font-size="29.7">8</text>
<text x="806.09" y="957.7" font-size="29.7">8</text>
<use href="#one" transform="translate(585.46 657.12) scale(0.0297)"/><text x="601.98" y="657.12" font-size="29.7">2</text>
<use href="#one" transform="translate(882.01 957.7) scale(0.0297)"/><text x="898.53" y="957.7" font-size="29.7">2</text>
<use href="#one" transform="translate(585.46 572.9) scale(0.0297)"/><text x="601.98" y="572.9" font-size="29.7">6</text>
<use href="#one" transform="translate(966.18 957.7) scale(0.0297)"/><text x="982.7" y="957.7" font-size="29.7">6</text>
<text x="651.58" y="592.6" font-size="32.8">RMSE = </text><use href="#one" transform="translate(783.72 592.6) scale(0.0328)"/><text x="801.96" y="592.6" font-size="32.8">2%</text>
<g><use href="#Q" x="423.49" y="1126.14"/><use href="#Q" x="431.53" y="1134.18"/><use href="#Q" x="429.93" y="1148.66"/><use href="#Q" x="430.63" y="1149.16"/><use href="#Q" x="417.06" y="1147.69"/><use href="#Q" x="410.63" y="1141.26"/><use href="#Q" x="402.59" y="1141.26"/><use href="#Q" x="407.41" y="1142.22"/><use href="#Q" x="408.11" y="1142.72"/><use href="#Q" x="389.73" y="1139.97"/><use href="#Q" x="389.73" y="1147.05"/><use href="#Q" x="384.9" y="1159.91"/><use href="#Q" x="391.33" y="1164.74"/><use href="#Q" x="392.03" y="1165.24"/><use href="#Q" x="392.94" y="1169.56"/><use href="#Q" x="400.98" y="1167.95"/><use href="#Q" x="410.63" y="1167.95"/><use href="#Q" x="407.41" y="1163.13"/><use href="#Q" x="407.41" y="1182.42"/><use href="#Q" x="373.65" y="1171.17"/><use href="#Q" x="372.04" y="1180.82"/><use href="#Q" x="381.69" y="1184.03"/><use href="#Q" x="384.9" y="1182.42"/><use href="#Q" x="362.39" y="1188.86"/><use href="#Q" x="363.09" y="1189.36"/><use href="#Q" x="365.61" y="1195.29"/><use href="#Q" x="372.04" y="1196.9"/><use href="#Q" x="312.54" y="1200.11"/><use href="#Q" x="335.06" y="1198.5"/><use href="#Q" x="359.18" y="1222.62"/><use href="#Q" x="355.96" y="1243.53"/><use href="#Q" x="339.88" y="1266.04"/><use href="#Q" x="320.58" y="1277.29"/><use href="#Q" x="301.29" y="1275.69"/><use href="#Q" x="272.34" y="1258.96"/><use href="#Q" x="280.38" y="1258"/><use href="#Q" x="269.13" y="1278.9"/><use href="#Q" x="277.17" y="1285.33"/><use href="#Q" x="349.53" y="1232.27"/><use href="#Q" x="337.95" y="1215.16"/><use href="#Q" x="307.57" y="1224.91"/><use href="#Q" x="335.47" y="1217.76"/><use href="#Q" x="310.86" y="1223.72"/><use href="#Q" x="319.27" y="1223.84"/><use href="#Q" x="325.89" y="1224.27"/><use href="#Q" x="334.58" y="1212.39"/><use href="#Q" x="316.78" y="1225.53"/><use href="#Q" x="314.57" y="1225.96"/><use href="#Q" x="329.9" y="1221.73"/><use href="#Q" x="334.13" y="1219.2"/><use href="#Q" x="316.17" y="1220.57"/><use href="#Q" x="338.46" y="1226.63"/><use href="#Q" x="335.7" y="1228.12"/><use href="#Q" x="330.46" y="1221.08"/><use href="#Q" x="338.61" y="1216.89"/><use href="#Q" x="333.8" y="1215.17"/><use href="#Q" x="324.65" y="1217.18"/><use href="#Q" x="338.45" y="1214.14"/><use href="#Q" x="332.24" y="1225.36"/><use href="#Q" x="328.31" y="1218.56"/><use href="#Q" x="319.61" y="1224.57"/><use href="#Q" x="343.89" y="1224.8"/><use href="#Q" x="319.81" y="1222.19"/><use href="#Q" x="341.58" y="1209.96"/><use href="#Q" x="340.41" y="1224.23"/><use href="#Q" x="343.09" y="1223.78"/><use href="#Q" x="324.98" y="1217.8"/><use href="#Q" x="333.91" y="1217.81"/><use href="#Q" x="325.44" y="1215.42"/><use href="#Q" x="329.51" y="1221.9"/><use href="#Q" x="319.3" y="1224.51"/><use href="#Q" x="330.75" y="1224.16"/><use href="#Q" x="321.39" y="1220.6"/><use href="#Q" x="328.76" y="1228.39"/><use href="#Q" x="321.79" y="1227.46"/><use href="#Q" x="330.84" y="1225"/><use href="#Q" x="344.46" y="1224.02"/><use href="#Q" x="327.81" y="1225.66"/><use href="#Q" x="336.26" y="1220.86"/><use href="#Q" x="338.96" y="1213.83"/><use href="#Q" x="313.22" y="1220.34"/><use href="#Q" x="337.94" y="1218.13"/><use href="#Q" x="332.6" y="1225.54"/><use href="#Q" x="342.48" y="1210.22"/><use href="#Q" x="324.06" y="1220.86"/><use href="#Q" x="346.72" y="1216.33"/><use href="#Q" x="314.42" y="1225.18"/><use href="#Q" x="330.64" y="1215.98"/><use href="#Q" x="310.36" y="1252.4"/><use href="#Q" x="322.75" y="1259.4"/><use href="#Q" x="319.09" y="1257.88"/><use href="#Q" x="325.4" y="1246.19"/><use href="#Q" x="300.68" y="1256.44"/><use href="#Q" x="310.02" y="1256.45"/><use href="#Q" x="333.72" y="1246.87"/><use href="#Q" x="309.19" y="1256.1"/><use href="#Q" x="315.2" y="1260.56"/><use href="#Q" x="318.22" y="1249.42"/><use href="#Q" x="329.86" y="1251.61"/><use href="#Q" x="301.86" y="1253.75"/><use href="#Q" x="295.73" y="1253.37"/><use href="#Q" x="304" y="1256.83"/><use href="#Q" x="331.61" y="1247.84"/><use href="#Q" x="343.77" y="1247.22"/><use href="#Q" x="336.22" y="1252.11"/><use href="#G" x="211.88" y="1256.39"/><use href="#G" x="199.02" y="1280.51"/><use href="#G" x="230.54" y="1311.06"/><use href="#G" x="235.36" y="1319.1"/><use href="#G" x="240.18" y="1323.93"/><use href="#G" x="248.22" y="1322.32"/><use href="#G" x="246.62" y="1328.75"/><use href="#G" x="236.97" y="1314.28"/><use href="#G" x="256.26" y="1304.63"/><use href="#G" x="265.91" y="1301.41"/><use href="#G" x="256.26" y="1291.77"/><use href="#G" x="262.7" y="1285.33"/><use href="#G" x="270.74" y="1278.9"/><use href="#G" x="271.44" y="1279.4"/><use href="#G" x="280.38" y="1275.69"/><use href="#G" x="285.21" y="1272.47"/><use href="#G" x="278.78" y="1293.37"/><use href="#G" x="291.64" y="1299.81"/><use href="#G" x="320.58" y="1291.77"/><use href="#G" x="320.58" y="1267.65"/><use href="#G" x="346.31" y="1258"/><use href="#G" x="352.74" y="1232.27"/><use href="#G" x="312.54" y="1211.37"/><use href="#G" x="323.8" y="1221.02"/><use href="#G" x="330.23" y="1232.27"/><use href="#G" x="304.83" y="1250.17"/><use href="#G" x="316.48" y="1246.65"/><use href="#G" x="305.69" y="1248.45"/><use href="#G" x="323.83" y="1247.33"/><use href="#G" x="319.79" y="1246.92"/><use href="#G" x="308.74" y="1256.91"/><use href="#G" x="308.21" y="1243.3"/><use href="#G" x="321.36" y="1241.42"/><use href="#G" x="310.43" y="1248.52"/><use href="#G" x="309.99" y="1242.61"/><use href="#G" x="324.53" y="1251.52"/><use href="#G" x="297.44" y="1248.98"/><use href="#G" x="303.68" y="1251.9"/><use href="#G" x="311.74" y="1247.9"/><use href="#G" x="300.12" y="1249.47"/><use href="#G" x="314.54" y="1255.21"/><use href="#G" x="329.08" y="1242.73"/><use href="#G" x="309.11" y="1253.28"/><use href="#G" x="328.54" y="1246.28"/><use href="#G" x="310.73" y="1255.9"/><use href="#G" x="312.71" y="1251.41"/><use href="#G" x="314.38" y="1245.2"/><use href="#G" x="310.87" y="1255.77"/><use href="#G" x="297.87" y="1249.93"/><use href="#G" x="328.27" y="1241.77"/><use href="#G" x="312.05" y="1243.8"/><use href="#G" x="331.14" y="1245.73"/><use href="#G" x="308.02" y="1247.86"/><use href="#G" x="311.08" y="1244.86"/><use href="#G" x="313.6" y="1247.91"/><use href="#G" x="319.17" y="1251.71"/><use href="#G" x="305.08" y="1256.51"/><use href="#G" x="305.88" y="1242.39"/><use href="#G" x="301.41" y="1246.17"/><use href="#G" x="310.36" y="1256.4"/><use href="#G" x="324.18" y="1240.44"/><use href="#G" x="330.32" y="1248.32"/><use href="#G" x="309.55" y="1243.63"/><use href="#G" x="324.73" y="1250.01"/><use href="#G" x="313.16" y="1251.07"/><use href="#G" x="300.5" y="1254.86"/><use href="#G" x="307.87" y="1244.87"/><use href="#G" x="314.58" y="1249.98"/><use href="#G" x="307.24" y="1252.24"/><use href="#G" x="314.02" y="1254.39"/><use href="#G" x="306.31" y="1246.4"/><use href="#G" x="325.2" y="1221.44"/><use href="#G" x="316.24" y="1231.69"/><use href="#G" x="317.12" y="1258.23"/><use href="#G" x="322.58" y="1227.56"/><use href="#G" x="332.78" y="1232.33"/><use href="#G" x="332.06" y="1233.87"/><use href="#G" x="317.89" y="1260.96"/><use href="#G" x="309.28" y="1260.76"/><use href="#G" x="306.83" y="1261.34"/><use href="#G" x="333.66" y="1227.7"/><use href="#G" x="303.49" y="1258.81"/><use href="#G" x="325.64" y="1234.49"/><use href="#G" x="335.89" y="1246.49"/><use href="#G" x="316.79" y="1260.08"/><use href="#G" x="310.9" y="1257.59"/><use href="#G" x="322.49" y="1233.02"/><use href="#G" x="335.31" y="1245.49"/><use href="#G" x="314.14" y="1253.09"/><use href="#G" x="318.68" y="1222.09"/><use href="#G" x="300.16" y="1256.54"/><use href="#G" x="323.66" y="1242.8"/><use href="#G" x="335.46" y="1241.64"/><use href="#G" x="315.82" y="1237.89"/><use href="#G" x="328.58" y="1233.91"/><use href="#G" x="316.66" y="1234.38"/><use href="#G" x="332.21" y="1236.73"/><use href="#G" x="334.95" y="1245.08"/><use href="#G" x="337.42" y="1239.36"/><use href="#Q" x="330.23" y="1219.41"/><use href="#Q" x="338.27" y="1217.8"/><use href="#Q" x="343.1" y="1221.02"/><use href="#Q" x="275.56" y="1278.9"/></g>
<line x1="163.5" y1="1394.8" x2="500.4" y2="1057.8" stroke="#5c5c5c" stroke-width="2.4" stroke-dasharray="11.5 12.46" stroke-dashoffset="1.12" stroke-linecap="round"/>
<rect x="163.5" y="1057.8" width="336.9" height="337" fill="none" stroke="#000" stroke-width="2.5" stroke-linejoin="round"/>
<path d="M163.5 1394.8H148.5M163.5 1394.8V1411.1M163.5 1310.55H148.5M247.72 1394.8V1411.1M163.5 1226.3H148.5M331.95 1394.8V1411.1M163.5 1142.05H148.5M416.17 1394.8V1411.1M163.5 1057.8H148.5M500.4 1394.8V1411.1" stroke="#000" stroke-width="2.5" stroke-linecap="round" fill="none"/>
<text x="119.48" y="1406.3" font-size="29.7">0</text>
<text x="155.24" y="1454.2" font-size="29.7">0</text>
<text x="119.48" y="1322.05" font-size="29.7">5</text>
<text x="239.47" y="1454.2" font-size="29.7">5</text>
<use href="#one" transform="translate(102.96 1237.8) scale(0.0297)"/><text x="119.48" y="1237.8" font-size="29.7">0</text>
<use href="#one" transform="translate(315.43 1454.2) scale(0.0297)"/><text x="331.95" y="1454.2" font-size="29.7">0</text>
<use href="#one" transform="translate(102.96 1153.55) scale(0.0297)"/><text x="119.48" y="1153.55" font-size="29.7">5</text>
<use href="#one" transform="translate(399.66 1454.2) scale(0.0297)"/><text x="416.17" y="1454.2" font-size="29.7">5</text>
<text x="102.96" y="1069.3" font-size="29.7">20</text>
<text x="483.88" y="1454.2" font-size="29.7">20</text>
<text x="167.88" y="1088.1" font-size="32.8">RMSE = </text><use href="#one" transform="translate(300.02 1088.1) scale(0.0328)"/><text x="318.26" y="1088.1" font-size="32.8">0%</text>
<g><use href="#Q" x="875.94" y="1139.97"/><use href="#Q" x="890.41" y="1142.22"/><use href="#Q" x="903.28" y="1143.19"/><use href="#Q" x="912.93" y="1147.05"/><use href="#Q" x="913.63" y="1147.55"/><use href="#Q" x="914.53" y="1151.87"/><use href="#Q" x="896.85" y="1150.26"/><use href="#Q" x="900.06" y="1159.91"/><use href="#Q" x="893.63" y="1153.48"/><use href="#Q" x="883.98" y="1153.48"/><use href="#Q" x="867.9" y="1153.48"/><use href="#Q" x="864.69" y="1159.91"/><use href="#Q" x="874.33" y="1164.74"/><use href="#Q" x="879.16" y="1167.95"/><use href="#Q" x="888.81" y="1164.74"/><use href="#Q" x="871.12" y="1175.99"/><use href="#Q" x="893.63" y="1177.6"/><use href="#Q" x="894.33" y="1178.1"/><use href="#Q" x="890.41" y="1192.07"/><use href="#Q" x="877.55" y="1188.86"/><use href="#Q" x="871.12" y="1198.5"/><use href="#Q" x="867.9" y="1208.15"/><use href="#Q" x="875.94" y="1209.76"/><use href="#Q" x="871.12" y="1216.19"/><use href="#Q" x="864.69" y="1217.8"/><use href="#Q" x="840.57" y="1174.38"/><use href="#Q" x="842.18" y="1185.64"/><use href="#Q" x="851.82" y="1184.03"/><use href="#Q" x="858.25" y="1185.64"/><use href="#Q" x="858.95" y="1186.14"/><use href="#Q" x="838.96" y="1193.68"/><use href="#Q" x="847" y="1200.11"/><use href="#Q" x="855.04" y="1206.54"/><use href="#Q" x="851.82" y="1192.07"/><use href="#Q" x="810.02" y="1196.9"/><use href="#Q" x="818.06" y="1196.9"/><use href="#Q" x="750.52" y="1237.1"/><use href="#Q" x="753.74" y="1266.04"/><use href="#Q" x="845.39" y="1249.96"/><use href="#Q" x="842.18" y="1224.23"/><use href="#Q" x="840.57" y="1232.27"/><use href="#Q" x="774.64" y="1221.02"/><use href="#Q" x="781.07" y="1224.23"/><use href="#Q" x="780.31" y="1230.65"/><use href="#Q" x="802.28" y="1219.35"/><use href="#Q" x="809.7" y="1224.42"/><use href="#Q" x="784.93" y="1229.84"/><use href="#Q" x="825.72" y="1229.03"/><use href="#Q" x="796.11" y="1226.24"/><use href="#Q" x="810.98" y="1213.94"/><use href="#Q" x="793.7" y="1214.55"/><use href="#Q" x="821.07" y="1220.86"/><use href="#Q" x="832.04" y="1232.84"/><use href="#Q" x="827.54" y="1232.39"/><use href="#Q" x="803.76" y="1215.4"/><use href="#Q" x="781.15" y="1229.69"/><use href="#Q" x="818.64" y="1227.15"/><use href="#Q" x="821.39" y="1226.75"/><use href="#Q" x="791.41" y="1220.54"/><use href="#Q" x="810.45" y="1227.02"/><use href="#Q" x="832.8" y="1215.61"/><use href="#Q" x="840.68" y="1236.57"/><use href="#Q" x="799.46" y="1230.29"/><use href="#Q" x="823.05" y="1224.02"/><use href="#Q" x="788.7" y="1227.45"/><use href="#Q" x="833.4" y="1221.06"/><use href="#Q" x="794.42" y="1230.68"/><use href="#Q" x="836.16" y="1231.19"/><use href="#Q" x="785.29" y="1219.59"/><use href="#Q" x="782.83" y="1225.25"/><use href="#Q" x="837.06" y="1233.52"/><use href="#Q" x="790.02" y="1218.67"/><use href="#Q" x="783.62" y="1221.75"/><use href="#Q" x="786.28" y="1222.2"/><use href="#Q" x="839.78" y="1222.75"/><use href="#Q" x="817.18" y="1224.12"/><use href="#Q" x="799.53" y="1216.1"/><use href="#Q" x="806.16" y="1223.19"/><use href="#Q" x="812.71" y="1228.9"/><use href="#Q" x="837.68" y="1225.43"/><use href="#Q" x="836.11" y="1218.2"/><use href="#Q" x="818.26" y="1220.87"/><use href="#Q" x="794.75" y="1228.32"/><use href="#Q" x="812.47" y="1213.58"/><use href="#Q" x="774.16" y="1229.78"/><use href="#Q" x="834.87" y="1229.41"/><use href="#Q" x="781.8" y="1232.71"/><use href="#Q" x="811.16" y="1220.6"/><use href="#Q" x="830.74" y="1227.01"/><use href="#Q" x="831.27" y="1215.2"/><use href="#Q" x="834.47" y="1224.46"/><use href="#Q" x="800.49" y="1227.19"/><use href="#Q" x="827.56" y="1216.34"/><use href="#Q" x="800.02" y="1228.97"/><use href="#Q" x="816.75" y="1225.96"/><use href="#Q" x="842.69" y="1223.08"/><use href="#Q" x="784.82" y="1227.87"/><use href="#Q" x="802.92" y="1221.15"/><use href="#Q" x="838.53" y="1221.09"/><use href="#Q" x="843.4" y="1229.58"/><use href="#Q" x="784.5" y="1228.5"/><use href="#Q" x="798.88" y="1227.83"/><use href="#Q" x="801.14" y="1227.68"/><use href="#Q" x="841.46" y="1221.62"/><use href="#Q" x="795.35" y="1229.76"/><use href="#Q" x="804.81" y="1219.93"/><use href="#Q" x="786.8" y="1232.36"/><use href="#Q" x="775.46" y="1228.8"/><use href="#Q" x="814.51" y="1220.8"/><use href="#Q" x="822.58" y="1213.77"/><use href="#Q" x="804.48" y="1222.02"/><use href="#Q" x="818.35" y="1221.47"/><use href="#Q" x="783.04" y="1233.51"/><use href="#Q" x="841.64" y="1225.57"/><use href="#Q" x="785.32" y="1217.47"/><use href="#Q" x="824.28" y="1225.58"/><use href="#Q" x="814.38" y="1217.4"/><use href="#Q" x="806.97" y="1216.95"/><use href="#Q" x="778.48" y="1220.79"/><use href="#Q" x="822.25" y="1215.11"/><use href="#Q" x="807.23" y="1223.87"/><use href="#Q" x="786.16" y="1221.55"/><use href="#Q" x="827.07" y="1232"/><use href="#Q" x="794.5" y="1217.09"/><use href="#Q" x="855.04" y="1185.67"/><use href="#Q" x="855.41" y="1195.28"/><use href="#Q" x="852.43" y="1186.21"/><use href="#Q" x="842.5" y="1194.59"/><use href="#Q" x="848.49" y="1194.11"/><use href="#Q" x="840.74" y="1196.58"/><use href="#Q" x="847.88" y="1183.78"/><use href="#Q" x="849.88" y="1204.15"/><use href="#Q" x="843.49" y="1196.68"/><use href="#Q" x="891.64" y="1152.13"/><use href="#Q" x="887.89" y="1144.34"/><use href="#Q" x="879.45" y="1151.71"/><use href="#Q" x="893.78" y="1154.46"/><use href="#Q" x="894.91" y="1151.55"/><use href="#Q" x="901.09" y="1147.39"/><use href="#Q" x="904.7" y="1150.6"/><use href="#Q" x="893.4" y="1144.74"/><use href="#Q" x="895.76" y="1149.27"/><use href="#Q" x="801.01" y="1216.39"/><use href="#Q" x="773.07" y="1256.5"/><use href="#Q" x="758.31" y="1261.1"/><use href="#Q" x="784.71" y="1217.8"/><use href="#Q" x="806.19" y="1225.5"/><use href="#Q" x="759.71" y="1253.83"/><use href="#Q" x="811.43" y="1228.55"/><use href="#Q" x="793.55" y="1217.81"/><use href="#Q" x="812.94" y="1232.64"/><use href="#Q" x="810.22" y="1243.36"/><use href="#Q" x="763.64" y="1243.2"/><use href="#Q" x="795.83" y="1214.74"/><use href="#Q" x="784.98" y="1224.39"/><use href="#Q" x="805.68" y="1220.42"/><use href="#Q" x="806.61" y="1230.88"/><use href="#Q" x="783.87" y="1219.88"/><use href="#Q" x="812.34" y="1236.74"/><use href="#Q" x="809.72" y="1222.99"/><use href="#Q" x="808.27" y="1221.39"/><use href="#Q" x="839.3" y="1225.4"/><use href="#Q" x="820.41" y="1212.98"/><use href="#Q" x="804.81" y="1233.11"/><use href="#Q" x="782.05" y="1233.13"/><use href="#Q" x="798.73" y="1246.24"/><use href="#Q" x="755.42" y="1258.48"/><use href="#Q" x="768.85" y="1242.87"/><use href="#Q" x="785.17" y="1225.53"/><use href="#Q" x="803.83" y="1225.95"/><use href="#Q" x="777.93" y="1244.15"/><use href="#Q" x="806.8" y="1233.24"/><use href="#Q" x="764.62" y="1249.09"/><use href="#Q" x="814.41" y="1214.49"/><use href="#Q" x="759.31" y="1259.8"/><use href="#Q" x="779.61" y="1253.67"/><use href="#Q" x="820.17" y="1231.47"/><use href="#Q" x="789.02" y="1249.99"/><use href="#Q" x="777.57" y="1239.21"/><use href="#Q" x="773.56" y="1247.8"/><use href="#Q" x="789.73" y="1239.2"/><use href="#Q" x="774.15" y="1242.97"/><use href="#Q" x="802" y="1240.16"/><use href="#Q" x="808.03" y="1215.01"/><use href="#Q" x="791.71" y="1216.85"/><use href="#Q" x="763.68" y="1256.36"/><use href="#G" x="694.24" y="1267.65"/><use href="#G" x="679.77" y="1294.98"/><use href="#G" x="716.75" y="1309.45"/><use href="#G" x="721.58" y="1304.63"/><use href="#G" x="756.95" y="1306.24"/><use href="#G" x="771.42" y="1293.37"/><use href="#G" x="793.94" y="1294.98"/><use href="#G" x="803.58" y="1294.98"/><use href="#G" x="810.02" y="1280.51"/><use href="#G" x="822.88" y="1267.65"/><use href="#G" x="813.23" y="1269.25"/><use href="#G" x="800.37" y="1266.04"/><use href="#G" x="797.15" y="1283.73"/><use href="#G" x="806.8" y="1285.33"/><use href="#G" x="848.61" y="1238.7"/><use href="#G" x="829.31" y="1243.53"/><use href="#G" x="822.88" y="1249.96"/><use href="#G" x="708.71" y="1278.9"/><use href="#G" x="716.75" y="1266.04"/><use href="#G" x="729.62" y="1269.25"/><use href="#G" x="739.26" y="1275.69"/><use href="#G" x="764.08" y="1280.25"/><use href="#G" x="718.55" y="1293.94"/><use href="#G" x="747.35" y="1289.02"/><use href="#G" x="722.38" y="1287.16"/><use href="#G" x="728.4" y="1294.79"/><use href="#G" x="728.13" y="1287.98"/><use href="#G" x="731.26" y="1277.44"/><use href="#G" x="728.78" y="1281.58"/><use href="#G" x="767.28" y="1278.99"/><use href="#G" x="733.59" y="1291.68"/><use href="#G" x="729.55" y="1287.39"/><use href="#G" x="722.69" y="1286.15"/><use href="#G" x="736.48" y="1286.04"/><use href="#G" x="710.84" y="1283.43"/><use href="#G" x="722.85" y="1278.81"/><use href="#G" x="752.77" y="1281.03"/><use href="#G" x="748.76" y="1281.37"/><use href="#G" x="728.91" y="1280.94"/><use href="#G" x="745.39" y="1281.27"/><use href="#G" x="722.51" y="1279.91"/><use href="#G" x="720.16" y="1287.89"/><use href="#G" x="762.83" y="1279.92"/><use href="#G" x="757.68" y="1283.26"/><use href="#G" x="730.73" y="1279.07"/><use href="#G" x="755.33" y="1284.26"/><use href="#G" x="732.05" y="1297.7"/><use href="#G" x="753.72" y="1279.23"/><use href="#G" x="718.35" y="1288.84"/><use href="#G" x="726.4" y="1286.56"/><use href="#G" x="748.39" y="1289.32"/><use href="#G" x="736.37" y="1287.35"/><use href="#G" x="725.79" y="1298.45"/><use href="#G" x="751.51" y="1289.96"/><use href="#G" x="736.04" y="1296.37"/><use href="#G" x="730.95" y="1281.64"/><use href="#G" x="722.49" y="1286.36"/><use href="#G" x="761.09" y="1281.41"/><use href="#G" x="738.35" y="1286"/><use href="#G" x="762.03" y="1279.03"/><use href="#G" x="729.76" y="1280.39"/><use href="#G" x="733.49" y="1277.78"/><use href="#G" x="729.42" y="1288.57"/><use href="#G" x="726.33" y="1280.53"/><use href="#G" x="715.51" y="1285.17"/><use href="#G" x="744.35" y="1284.72"/><use href="#G" x="732.12" y="1298.07"/><use href="#G" x="721.68" y="1289.39"/><use href="#G" x="744.77" y="1282.81"/><use href="#G" x="732.98" y="1279.29"/><use href="#G" x="759.53" y="1284.38"/><use href="#G" x="741.26" y="1285.91"/><use href="#G" x="717.92" y="1277.31"/><use href="#G" x="759.88" y="1286.63"/><use href="#G" x="733.41" y="1280.63"/><use href="#G" x="737.38" y="1280.03"/><use href="#G" x="739.65" y="1287.54"/><use href="#G" x="743.9" y="1293.13"/><use href="#G" x="718.09" y="1278.92"/><use href="#G" x="736.16" y="1294.01"/><use href="#G" x="718" y="1295.56"/><use href="#G" x="723.08" y="1296.68"/><use href="#G" x="756" y="1284.28"/><use href="#G" x="719.2" y="1289.39"/><use href="#G" x="718.72" y="1286.49"/><use href="#G" x="747.99" y="1284.11"/><use href="#G" x="762.16" y="1288.06"/><use href="#G" x="734.32" y="1291.78"/><use href="#G" x="716.69" y="1288.31"/><use href="#G" x="803.75" y="1244.87"/><use href="#G" x="788.15" y="1263.36"/><use href="#G" x="791.95" y="1256.91"/><use href="#G" x="791.76" y="1245.64"/><use href="#G" x="803.99" y="1237.19"/><use href="#G" x="798.26" y="1240.59"/><use href="#G" x="786.33" y="1250.23"/><use href="#G" x="795.43" y="1240.3"/><use href="#G" x="795.68" y="1244.7"/><use href="#G" x="784.02" y="1247.26"/><use href="#G" x="785.12" y="1254.97"/><use href="#G" x="781.87" y="1244.6"/><use href="#G" x="789.36" y="1243.89"/><use href="#G" x="794.18" y="1251.92"/><use href="#G" x="792.33" y="1255.2"/><use href="#G" x="803.32" y="1250.67"/><use href="#G" x="791.21" y="1239.94"/><use href="#G" x="780.55" y="1259.31"/><use href="#G" x="804.11" y="1245.67"/><use href="#G" x="790.18" y="1247.73"/><use href="#G" x="805.4" y="1239.91"/><use href="#G" x="789.95" y="1259.16"/><use href="#G" x="802.06" y="1240.31"/><use href="#G" x="790.62" y="1246.1"/><use href="#G" x="781.01" y="1264.55"/><use href="#G" x="786.4" y="1237.22"/><use href="#G" x="784.21" y="1266.06"/><use href="#G" x="779.84" y="1264.99"/><use href="#G" x="783.82" y="1249.26"/><use href="#G" x="798.98" y="1238.41"/><use href="#G" x="777.96" y="1259.53"/><use href="#G" x="781.95" y="1244.11"/><use href="#G" x="792.78" y="1244.35"/><use href="#G" x="781.69" y="1250.45"/><use href="#G" x="783.72" y="1241.92"/><use href="#G" x="811.75" y="1242.48"/><use href="#G" x="808.38" y="1238.81"/><use href="#G" x="782.95" y="1245.15"/><use href="#G" x="790.34" y="1256.09"/><use href="#G" x="784.28" y="1243.67"/><use href="#G" x="780.25" y="1256.46"/><use href="#G" x="787.77" y="1243.64"/><use href="#G" x="792.79" y="1253.15"/><use href="#G" x="796.25" y="1247.34"/><use href="#G" x="812.08" y="1246.11"/><use href="#G" x="789.32" y="1255.81"/><use href="#G" x="796.52" y="1252.27"/><use href="#G" x="780.22" y="1243.06"/><use href="#G" x="786.75" y="1251.89"/><use href="#G" x="790.44" y="1247.98"/><use href="#G" x="786.38" y="1250.77"/><use href="#G" x="787.87" y="1244.73"/><use href="#G" x="782.69" y="1244.03"/><use href="#G" x="780.75" y="1243.13"/><use href="#G" x="802.76" y="1244.65"/><use href="#G" x="784.91" y="1259.15"/><use href="#G" x="785.95" y="1245.27"/><use href="#G" x="778.07" y="1252.45"/><use href="#G" x="788.29" y="1257.25"/><use href="#G" x="782.77" y="1255.19"/><use href="#G" x="786.1" y="1242.16"/><use href="#G" x="791.95" y="1241.37"/><use href="#G" x="802.67" y="1239.57"/><use href="#G" x="785.82" y="1240.4"/><use href="#G" x="788.79" y="1249.22"/><use href="#G" x="810.95" y="1239.44"/><use href="#G" x="791.03" y="1238.1"/><use href="#G" x="784.8" y="1268.47"/><use href="#G" x="779.59" y="1247.83"/><use href="#G" x="792.1" y="1247.22"/><use href="#G" x="802.87" y="1244.41"/><use href="#G" x="787.57" y="1281.91"/><use href="#G" x="790.61" y="1249.1"/><use href="#G" x="797.29" y="1264.21"/><use href="#G" x="808.17" y="1246.61"/><use href="#G" x="774.92" y="1275.92"/><use href="#G" x="776.04" y="1270.99"/><use href="#G" x="793.27" y="1245.18"/><use href="#G" x="812.63" y="1243.75"/><use href="#G" x="814.77" y="1239.55"/><use href="#G" x="785.87" y="1267.38"/><use href="#G" x="774.77" y="1271.73"/><use href="#G" x="802.8" y="1262.25"/><use href="#G" x="818.62" y="1245.77"/><use href="#G" x="792.14" y="1281.69"/><use href="#G" x="783.88" y="1259.45"/><use href="#G" x="788.31" y="1245.8"/><use href="#G" x="791.42" y="1249.18"/><use href="#G" x="776.46" y="1281.11"/><use href="#G" x="797.47" y="1261.66"/><use href="#G" x="783.36" y="1267.85"/><use href="#G" x="785.24" y="1277.57"/><use href="#G" x="786.59" y="1263.15"/><use href="#G" x="773.85" y="1275.22"/><use href="#G" x="807.64" y="1259.67"/><use href="#G" x="778.18" y="1249.11"/><use href="#G" x="764.42" y="1270.62"/><use href="#G" x="818.66" y="1238.72"/><use href="#G" x="815.66" y="1236.2"/><use href="#G" x="822.03" y="1250.03"/><use href="#G" x="785.84" y="1258.7"/><use href="#G" x="769.03" y="1267.95"/><use href="#G" x="782.97" y="1276.21"/><use href="#Q" x="755.34" y="1253.18"/><use href="#Q" x="752.13" y="1262.82"/><use href="#Q" x="761.78" y="1256.39"/></g>
<line x1="646" y1="1394.8" x2="982.7" y2="1057.8" stroke="#5c5c5c" stroke-width="2.4" stroke-dasharray="11.5 12.46" stroke-dashoffset="11.87" stroke-linecap="round"/>
<rect x="646" y="1057.8" width="336.7" height="337" fill="none" stroke="#000" stroke-width="2.5" stroke-linejoin="round"/>
<path d="M646 1394.8H631M646 1394.8V1411.1M646 1310.55H631M730.17 1394.8V1411.1M646 1226.3H631M814.35 1394.8V1411.1M646 1142.05H631M898.53 1394.8V1411.1M646 1057.8H631M982.7 1394.8V1411.1" stroke="#000" stroke-width="2.5" stroke-linecap="round" fill="none"/>
<text x="601.98" y="1406.3" font-size="29.7">0</text>
<text x="637.74" y="1454.2" font-size="29.7">0</text>
<text x="601.98" y="1322.05" font-size="29.7">5</text>
<text x="721.92" y="1454.2" font-size="29.7">5</text>
<use href="#one" transform="translate(585.46 1237.8) scale(0.0297)"/><text x="601.98" y="1237.8" font-size="29.7">0</text>
<use href="#one" transform="translate(797.83 1454.2) scale(0.0297)"/><text x="814.35" y="1454.2" font-size="29.7">0</text>
<use href="#one" transform="translate(585.46 1153.55) scale(0.0297)"/><text x="601.98" y="1153.55" font-size="29.7">5</text>
<use href="#one" transform="translate(882.01 1454.2) scale(0.0297)"/><text x="898.53" y="1454.2" font-size="29.7">5</text>
<text x="585.46" y="1069.3" font-size="29.7">20</text>
<text x="966.18" y="1454.2" font-size="29.7">20</text>
<text x="650.38" y="1087.6" font-size="32.8">RMSE = </text><use href="#one" transform="translate(782.52 1087.6) scale(0.0328)"/><text x="800.76" y="1087.6" font-size="32.8">3%</text>
<text x="332.0" y="36.3" font-size="50.0" text-anchor="middle">GYGA upscaling</text>
<text x="814.3" y="36.3" font-size="50.0" text-anchor="middle">Metamodel</text>
<text transform="translate(1015.3 233.8) rotate(90)" font-size="49.3" text-anchor="middle">maize</text>
<text transform="translate(1015.3 729.85) rotate(90)" font-size="49.3" text-anchor="middle">wheat</text>
<text transform="translate(1015.3 1226.3) rotate(90)" font-size="49.3" text-anchor="middle">rice</text>
<circle cx="841.2" cy="1329.9" r="5.05" fill="rgba(58,155,40,0.4)"/>
<circle cx="841.2" cy="1329.9" r="6.1" fill="none" stroke="rgba(58,155,40,0.75)" stroke-width="2.1"/>
<circle cx="841.2" cy="1365.5" r="5.05" fill="rgba(75,0,250,0.4)"/>
<circle cx="841.2" cy="1365.5" r="6.1" fill="none" stroke="rgba(75,0,250,0.68)" stroke-width="2.1"/>
<text x="867.6" y="1341.1" font-size="29.7">Rainfed</text>
<text x="868.2" y="1376.7" font-size="29.7">Irrigated</text>
<text x="336.2" y="1532.3" font-size="50.0">GYGA</text>
<text x="492.55" y="1532.3" font-size="50.0">Ypot</text>
<g transform="translate(610.8 1532.3)"><path d="M16.5 -42.8 L11.8 -38.5 L8.1 -34.7 L5.2 -30.8 L3.1 -26.9 L1.5 -23.0 L0.4 -19.1 L0.1 -15.3 L0.2 -11.3 L0.6 -7.5 L1.5 -3.6 L3.1 0.3 L5.6 4.1 L9.5 8.0 L12.7 10.7 L16.3 13.1 L16.1 12.9 L12.2 8.0 L9.5 4.1 L7.8 0.3 L6.6 -3.6 L6.0 -7.5 L5.7 -11.3 L5.6 -15.3 L5.8 -19.3 L6.0 -23.0 L6.8 -26.9 L8.1 -30.8 L10.3 -34.7 L13.4 -38.5 L16.5 -42.7Z" fill="#000" stroke="#000" stroke-width="0.5" stroke-linejoin="round"/><text x="18.45" y="0" font-size="50">t</text><text x="44.5" y="0" font-size="50">ha</text><rect x="101.4" y="-34.8" width="17.5" height="2.4" fill="#000"/><path d="M130.1 -25.1 L130.1 -44.6 Q127.4 -41.7 123.2 -40.3 L123.2 -43.4 Q128.6 -45.8 131 -49.8 L133 -49.8 L133 -25.1 Z" fill="#000"/><path d="M140.4 -42.8 L145.1 -38.5 L148.8 -34.7 L151.7 -30.8 L153.8 -26.9 L155.4 -23.0 L156.5 -19.1 L156.8 -15.3 L156.7 -11.3 L156.3 -7.5 L155.4 -3.6 L153.8 0.3 L151.3 4.1 L147.4 8.0 L144.2 10.7 L140.6 13.1 L140.8 12.9 L144.7 8.0 L147.4 4.1 L149.1 0.3 L150.3 -3.6 L150.9 -7.5 L151.2 -11.3 L151.3 -15.3 L151.1 -19.3 L150.9 -23.0 L150.1 -26.9 L148.8 -30.8 L146.6 -34.7 L143.5 -38.5 L140.4 -42.7Z" fill="#000" stroke="#000" stroke-width="0.5" stroke-linejoin="round"/></g>
<g transform="translate(50.5 0) rotate(-90)">
<text x="-1178" y="0" font-size="50.0">Cross</text>
<text x="-1001.15" y="0" font-size="50.0">validation</text>
<text x="-778.7" y="0" font-size="50.0">gridded</text>
<text x="-596.25" y="0" font-size="50.0">Ypot</text>
</g>
<rect x="36.2" y="1011.8" width="2.8" height="26.1" fill="#000"/>
<g transform="translate(50.5 480.9) rotate(-90)"><path d="M16.5 -42.8 L11.8 -38.5 L8.1 -34.7 L5.2 -30.8 L3.1 -26.9 L1.5 -23.0 L0.4 -19.1 L0.1 -15.3 L0.2 -11.3 L0.6 -7.5 L1.5 -3.6 L3.1 0.3 L5.6 4.1 L9.5 8.0 L12.7 10.7 L16.3 13.1 L16.1 12.9 L12.2 8.0 L9.5 4.1 L7.8 0.3 L6.6 -3.6 L6.0 -7.5 L5.7 -11.3 L5.6 -15.3 L5.8 -19.3 L6.0 -23.0 L6.8 -26.9 L8.1 -30.8 L10.3 -34.7 L13.4 -38.5 L16.5 -42.7Z" fill="#000" stroke="#000" stroke-width="0.5" stroke-linejoin="round"/><text x="18.45" y="0" font-size="50">t</text><text x="44.5" y="0" font-size="50">ha</text><rect x="101.4" y="-34.8" width="17.5" height="2.4" fill="#000"/><path d="M130.1 -25.1 L130.1 -44.6 Q127.4 -41.7 123.2 -40.3 L123.2 -43.4 Q128.6 -45.8 131 -49.8 L133 -49.8 L133 -25.1 Z" fill="#000"/><path d="M140.4 -42.8 L145.1 -38.5 L148.8 -34.7 L151.7 -30.8 L153.8 -26.9 L155.4 -23.0 L156.5 -19.1 L156.8 -15.3 L156.7 -11.3 L156.3 -7.5 L155.4 -3.6 L153.8 0.3 L151.3 4.1 L147.4 8.0 L144.2 10.7 L140.6 13.1 L140.8 12.9 L144.7 8.0 L147.4 4.1 L149.1 0.3 L150.3 -3.6 L150.9 -7.5 L151.2 -11.3 L151.3 -15.3 L151.1 -19.3 L150.9 -23.0 L150.1 -26.9 L148.8 -30.8 L146.6 -34.7 L143.5 -38.5 L140.4 -42.7Z" fill="#000" stroke="#000" stroke-width="0.5" stroke-linejoin="round"/></g>
</svg></body></html>
